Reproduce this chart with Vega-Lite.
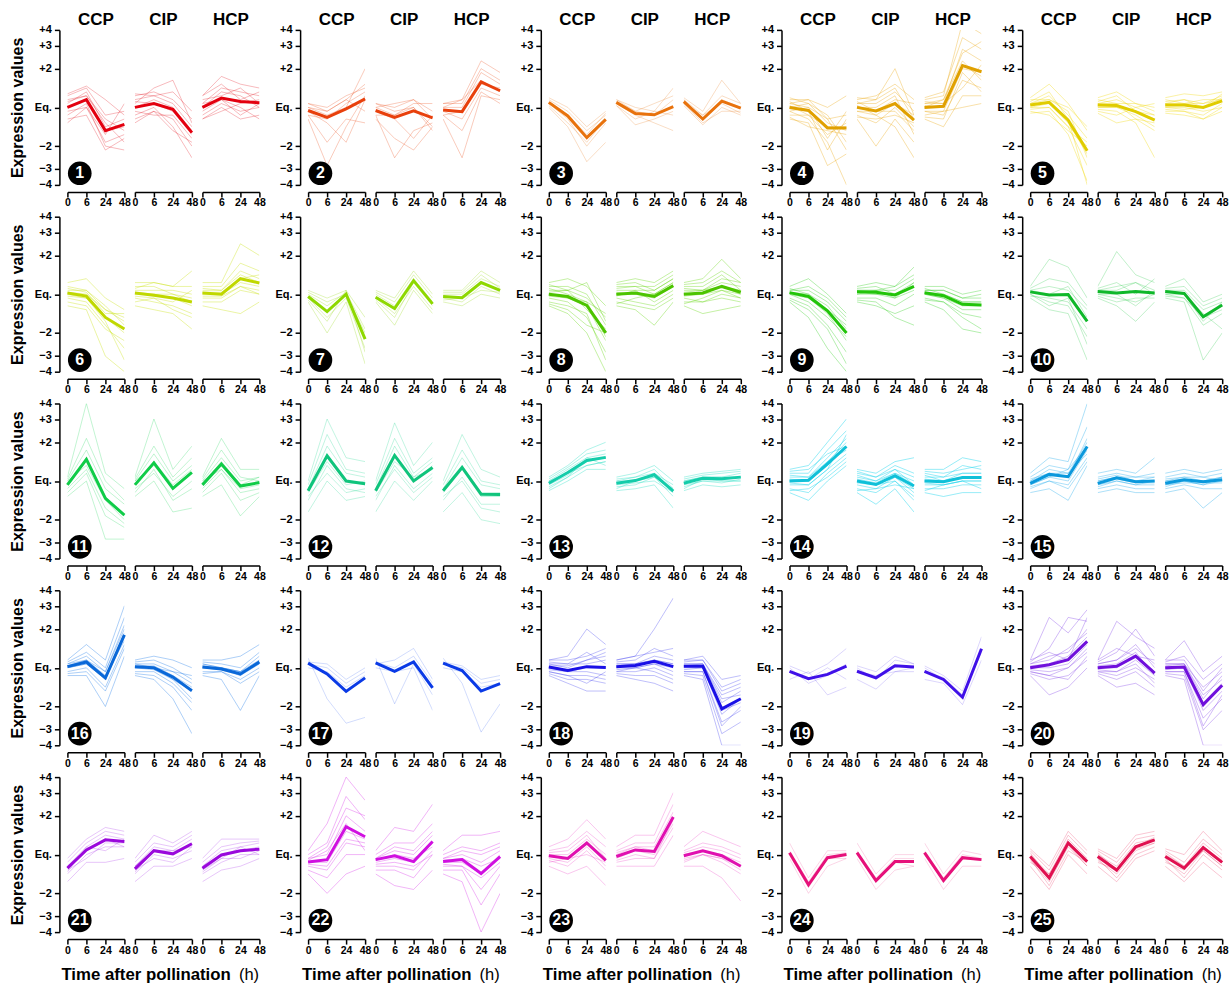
{
  "$schema": "https://vega.github.io/schema/vega-lite/v6.json",
  "background": "white",
  "padding": {"left": 8.4, "top": 10.9, "right": 1, "bottom": 1},
  "datasets": {
    "expr": [
      {"k":1,"g":0,"c":"CCP","0":0,"1":0.2,"2":-0.6,"3":-0.44},
      {"k":1,"g":0,"c":"CIP","0":0,"1":0.1,"2":-0.05,"3":-0.65},
      {"k":1,"g":0,"c":"HCP","0":0,"1":0.24,"2":0.15,"3":0.12},
      {"k":1,"g":1,"c":"CCP","0":0.3,"1":0.5,"2":-0.2,"3":-0.1},
      {"k":1,"g":2,"c":"CCP","0":-0.4,"1":0.0,"2":-0.9,"3":-0.7},
      {"k":1,"g":3,"c":"CCP","0":0.1,"1":0.4,"2":-0.5,"3":-0.3},
      {"k":1,"g":4,"c":"CCP","0":-0.2,"1":0.1,"2":-1.0,"3":-1.1},
      {"k":1,"g":5,"c":"CCP","0":0.2,"1":0.3,"2":-0.3,"3":-0.6},
      {"k":1,"g":6,"c":"CCP","0":-0.1,"1":0.0,"2":-0.7,"3":0.1},
      {"k":1,"g":7,"c":"CCP","0":0.35,"1":0.55,"2":0.2,"3":-0.2},
      {"k":1,"g":8,"c":"CCP","0":-0.3,"1":-0.2,"2":-1.1,"3":-0.8},
      {"k":1,"g":9,"c":"CCP","0":0.0,"1":0.2,"2":-0.6,"3":-0.5},
      {"k":1,"g":10,"c":"CCP","0":0.15,"1":0.3,"2":-0.4,"3":-0.9},
      {"k":1,"g":1,"c":"CIP","0":0.3,"1":0.4,"2":0.2,"3":-0.3},
      {"k":1,"g":2,"c":"CIP","0":-0.4,"1":-0.1,"2":-0.3,"3":-1.0},
      {"k":1,"g":3,"c":"CIP","0":0.1,"1":0.5,"2":0.7,"3":-0.4},
      {"k":1,"g":4,"c":"CIP","0":-0.2,"1":0.0,"2":-0.5,"3":-1.3},
      {"k":1,"g":5,"c":"CIP","0":0.2,"1":0.3,"2":0.1,"3":-0.5},
      {"k":1,"g":6,"c":"CIP","0":-0.1,"1":-0.2,"2":-0.2,"3":-0.8},
      {"k":1,"g":7,"c":"CIP","0":0.35,"1":0.3,"2":0.4,"3":-0.1},
      {"k":1,"g":8,"c":"CIP","0":-0.3,"1":-0.1,"2":-0.6,"3":-0.9},
      {"k":1,"g":9,"c":"CIP","0":0.0,"1":0.2,"2":0.0,"3":-0.6},
      {"k":1,"g":10,"c":"CIP","0":0.15,"1":0.1,"2":-0.1,"3":-0.7},
      {"k":1,"g":1,"c":"HCP","0":0.3,"1":0.8,"2":0.6,"3":0.5},
      {"k":1,"g":2,"c":"HCP","0":-0.3,"1":0.0,"2":-0.3,"3":-0.2},
      {"k":1,"g":3,"c":"HCP","0":0.1,"1":0.5,"2":0.4,"3":0.3},
      {"k":1,"g":4,"c":"HCP","0":-0.2,"1":0.1,"2":-0.1,"3":0.0},
      {"k":1,"g":5,"c":"HCP","0":0.2,"1":0.3,"2":0.5,"3":0.1},
      {"k":1,"g":6,"c":"HCP","0":-0.1,"1":0.2,"2":0.0,"3":-0.3},
      {"k":1,"g":7,"c":"HCP","0":0.3,"1":0.6,"2":0.2,"3":0.4},
      {"k":1,"g":8,"c":"HCP","0":-0.3,"1":-0.1,"2":0.1,"3":0.2},
      {"k":1,"g":9,"c":"HCP","0":0.0,"1":0.4,"2":0.3,"3":0.0},
      {"k":1,"g":10,"c":"HCP","0":0.1,"1":0.2,"2":-0.2,"3":0.1},

      {"k":2,"g":0,"c":"CCP","0":-0.08,"1":-0.26,"2":-0.04,"3":0.22},
      {"k":2,"g":0,"c":"CIP","0":-0.08,"1":-0.26,"2":-0.09,"3":-0.27},
      {"k":2,"g":0,"c":"HCP","0":-0.07,"1":-0.11,"2":0.66,"3":0.43},
      {"k":2,"g":1,"c":"CCP","0":0.1,"1":-0.1,"2":0.2,"3":0.6},
      {"k":2,"g":2,"c":"CCP","0":-0.3,"1":-1.5,"2":-0.5,"3":0.3},
      {"k":2,"g":3,"c":"CCP","0":0.0,"1":-0.2,"2":0.0,"3":1.0},
      {"k":2,"g":4,"c":"CCP","0":-0.2,"1":-0.9,"2":-0.3,"3":-0.4},
      {"k":2,"g":5,"c":"CCP","0":0.1,"1":0.0,"2":0.3,"3":0.5},
      {"k":2,"g":6,"c":"CCP","0":-0.1,"1":-0.4,"2":-0.9,"3":0.2},
      {"k":2,"g":7,"c":"CCP","0":0.0,"1":-0.1,"2":0.2,"3":-0.1},
      {"k":2,"g":8,"c":"CCP","0":-0.2,"1":-0.3,"2":0.1,"3":0.4},
      {"k":2,"g":1,"c":"CIP","0":0.1,"1":0.0,"2":0.2,"3":-0.1},
      {"k":2,"g":2,"c":"CIP","0":-0.3,"1":-0.8,"2":-1.1,"3":-0.5},
      {"k":2,"g":3,"c":"CIP","0":0.0,"1":-0.2,"2":0.1,"3":0.1},
      {"k":2,"g":4,"c":"CIP","0":-0.2,"1":-1.3,"2":-0.6,"3":-0.4},
      {"k":2,"g":5,"c":"CIP","0":0.1,"1":-0.1,"2":0.0,"3":-0.6},
      {"k":2,"g":6,"c":"CIP","0":-0.1,"1":-0.3,"2":-0.8,"3":-0.2},
      {"k":2,"g":7,"c":"CIP","0":0.0,"1":0.1,"2":0.2,"3":-0.3},
      {"k":2,"g":8,"c":"CIP","0":-0.2,"1":-0.2,"2":0.0,"3":-0.5},
      {"k":2,"g":1,"c":"HCP","0":0.1,"1":0.2,"2":1.2,"3":0.9},
      {"k":2,"g":2,"c":"HCP","0":-0.3,"1":-1.3,"2":0.3,"3":0.2},
      {"k":2,"g":3,"c":"HCP","0":0.0,"1":0.0,"2":0.9,"3":0.6},
      {"k":2,"g":4,"c":"HCP","0":-0.2,"1":-0.6,"2":0.4,"3":0.1},
      {"k":2,"g":5,"c":"HCP","0":0.1,"1":0.1,"2":1.0,"3":0.7},
      {"k":2,"g":6,"c":"HCP","0":-0.1,"1":-0.3,"2":0.5,"3":0.3},
      {"k":2,"g":7,"c":"HCP","0":0.0,"1":0.2,"2":0.7,"3":0.4},
      {"k":2,"g":8,"c":"HCP","0":-0.2,"1":-0.1,"2":0.6,"3":0.5},

      {"k":3,"g":0,"c":"CCP","0":0.13,"1":-0.22,"2":-0.78,"3":-0.31},
      {"k":3,"g":0,"c":"CIP","0":0.13,"1":-0.16,"2":-0.19,"3":0.02},
      {"k":3,"g":0,"c":"HCP","0":0.15,"1":-0.3,"2":0.16,"3":-0.02},
      {"k":3,"g":1,"c":"CCP","0":0.25,"1":0.0,"2":-0.5,"3":-0.1},
      {"k":3,"g":2,"c":"CCP","0":0.0,"1":-0.5,"2":-1.4,"3":-0.9},
      {"k":3,"g":3,"c":"CCP","0":0.2,"1":-0.1,"2":-0.6,"3":-0.2},
      {"k":3,"g":4,"c":"CCP","0":0.1,"1":-0.3,"2":-1.0,"3":-0.4},
      {"k":3,"g":5,"c":"CCP","0":0.15,"1":-0.2,"2":-0.7,"3":-0.15},
      {"k":3,"g":6,"c":"CCP","0":0.05,"1":-0.4,"2":-0.9,"3":-0.3},
      {"k":3,"g":1,"c":"CIP","0":0.2,"1":0.0,"2":-0.1,"3":0.5},
      {"k":3,"g":2,"c":"CIP","0":0.05,"1":-0.45,"2":-0.3,"3":-0.1},
      {"k":3,"g":3,"c":"CIP","0":0.15,"1":-0.1,"2":0.1,"3":0.3},
      {"k":3,"g":4,"c":"CIP","0":0.1,"1":-0.2,"2":-0.4,"3":-0.6},
      {"k":3,"g":5,"c":"CIP","0":0.2,"1":-0.1,"2":-0.2,"3":0.2},
      {"k":3,"g":6,"c":"CIP","0":0.05,"1":-0.3,"2":-0.1,"3":-0.2},
      {"k":3,"g":1,"c":"HCP","0":0.25,"1":-0.1,"2":0.7,"3":0.1},
      {"k":3,"g":2,"c":"HCP","0":0.05,"1":-0.45,"2":0.0,"3":-0.2},
      {"k":3,"g":3,"c":"HCP","0":0.2,"1":-0.2,"2":0.3,"3":0.1},
      {"k":3,"g":4,"c":"HCP","0":0.1,"1":-0.4,"2":-0.1,"3":-0.1},
      {"k":3,"g":5,"c":"HCP","0":0.2,"1":-0.3,"2":0.2,"3":0.0},
      {"k":3,"g":6,"c":"HCP","0":0.1,"1":-0.2,"2":0.1,"3":-0.15},

      {"k":4,"g":0,"c":"CCP","0":0,"1":-0.08,"2":-0.53,"3":-0.53},
      {"k":4,"g":0,"c":"CIP","0":0,"1":-0.09,"2":0.1,"3":-0.33},
      {"k":4,"g":0,"c":"HCP","0":0,"1":0.03,"2":1.08,"3":0.92},
      {"k":4,"g":1,"c":"CCP","0":0.2,"1":0.2,"2":0.0,"3":0.3},
      {"k":4,"g":2,"c":"CCP","0":-0.3,"1":-0.4,"2":-1.5,"3":-1.2},
      {"k":4,"g":3,"c":"CCP","0":0.1,"1":0.0,"2":-0.3,"3":-0.2},
      {"k":4,"g":4,"c":"CCP","0":-0.1,"1":-0.3,"2":-0.9,"3":-2.0},
      {"k":4,"g":5,"c":"CCP","0":0.25,"1":0.1,"2":-0.4,"3":-0.6},
      {"k":4,"g":6,"c":"CCP","0":-0.2,"1":-0.2,"2":-0.7,"3":-0.4},
      {"k":4,"g":7,"c":"CCP","0":0.0,"1":0.1,"2":-0.2,"3":-0.9},
      {"k":4,"g":8,"c":"CCP","0":0.15,"1":-0.1,"2":-1.1,"3":-0.3},
      {"k":4,"g":9,"c":"CCP","0":-0.25,"1":-0.5,"2":-0.6,"3":-0.7},
      {"k":4,"g":10,"c":"CCP","0":0.1,"1":0.2,"2":-0.3,"3":-1.1},
      {"k":4,"g":11,"c":"CCP","0":-0.1,"1":0.0,"2":-0.8,"3":-0.1},
      {"k":4,"g":12,"c":"CCP","0":0.05,"1":-0.2,"2":-0.5,"3":-0.5},
      {"k":4,"g":1,"c":"CIP","0":0.2,"1":0.3,"2":0.6,"3":0.2},
      {"k":4,"g":2,"c":"CIP","0":-0.3,"1":-1.0,"2":-0.3,"3":-0.9},
      {"k":4,"g":3,"c":"CIP","0":0.1,"1":0.1,"2":0.4,"3":-0.1},
      {"k":4,"g":4,"c":"CIP","0":-0.1,"1":-0.2,"2":-0.5,"3":-1.3},
      {"k":4,"g":5,"c":"CIP","0":0.25,"1":0.2,"2":1.0,"3":-0.2},
      {"k":4,"g":6,"c":"CIP","0":-0.2,"1":-0.4,"2":0.0,"3":-0.5},
      {"k":4,"g":7,"c":"CIP","0":0.0,"1":0.0,"2":0.3,"3":-0.7},
      {"k":4,"g":8,"c":"CIP","0":0.15,"1":-0.1,"2":0.2,"3":0.1},
      {"k":4,"g":9,"c":"CIP","0":-0.25,"1":-0.3,"2":-0.2,"3":-0.4},
      {"k":4,"g":10,"c":"CIP","0":0.1,"1":0.2,"2":0.5,"3":-0.3},
      {"k":4,"g":11,"c":"CIP","0":-0.1,"1":-0.1,"2":-0.1,"3":-0.6},
      {"k":4,"g":12,"c":"CIP","0":0.05,"1":-0.2,"2":0.1,"3":-0.2},
      {"k":4,"g":1,"c":"HCP","0":0.2,"1":0.3,"2":2.2,"3":1.9},
      {"k":4,"g":2,"c":"HCP","0":-0.3,"1":-0.5,"2":0.3,"3":0.3},
      {"k":4,"g":3,"c":"HCP","0":0.1,"1":0.1,"2":1.5,"3":1.2},
      {"k":4,"g":4,"c":"HCP","0":-0.1,"1":-0.2,"2":0.7,"3":0.5},
      {"k":4,"g":5,"c":"HCP","0":0.25,"1":0.4,"2":1.8,"3":1.5},
      {"k":4,"g":6,"c":"HCP","0":-0.2,"1":-0.1,"2":1.0,"3":0.9},
      {"k":4,"g":7,"c":"HCP","0":0.0,"1":0.2,"2":1.2,"3":0.7},
      {"k":4,"g":8,"c":"HCP","0":0.15,"1":0.1,"2":0.5,"3":1.1},
      {"k":4,"g":9,"c":"HCP","0":-0.25,"1":-0.3,"2":0.9,"3":0.4},
      {"k":4,"g":10,"c":"HCP","0":0.1,"1":0.2,"2":1.4,"3":1.7},
      {"k":4,"g":11,"c":"HCP","0":-0.1,"1":-0.1,"2":0.0,"3":0.1},
      {"k":4,"g":12,"c":"HCP","0":0.05,"1":0.0,"2":1.1,"3":0.8},

      {"k":5,"g":0,"c":"CCP","0":0.06,"1":0.13,"2":-0.33,"3":-1.12},
      {"k":5,"g":0,"c":"CIP","0":0.06,"1":0.05,"2":-0.11,"3":-0.33},
      {"k":5,"g":0,"c":"HCP","0":0.06,"1":0.06,"2":0,"3":0.17},
      {"k":5,"g":1,"c":"CCP","0":0.25,"1":0.6,"2":0.1,"3":-0.6},
      {"k":5,"g":2,"c":"CCP","0":-0.15,"1":-0.1,"2":-0.7,"3":-1.9},
      {"k":5,"g":3,"c":"CCP","0":0.1,"1":0.3,"2":-0.2,"3":-0.8},
      {"k":5,"g":4,"c":"CCP","0":-0.05,"1":0.0,"2":-0.5,"3":-1.5},
      {"k":5,"g":5,"c":"CCP","0":0.2,"1":0.2,"2":0.0,"3":-0.5},
      {"k":5,"g":6,"c":"CCP","0":0.0,"1":0.1,"2":-0.4,"3":-1.2},
      {"k":5,"g":7,"c":"CCP","0":0.15,"1":0.4,"2":-0.3,"3":-2.0},
      {"k":5,"g":8,"c":"CCP","0":-0.1,"1":-0.2,"2":-0.6,"3":-1.0},
      {"k":5,"g":9,"c":"CCP","0":0.1,"1":0.2,"2":-0.1,"3":-1.3},
      {"k":5,"g":10,"c":"CCP","0":0.0,"1":0.0,"2":-0.5,"3":-0.9},
      {"k":5,"g":1,"c":"CIP","0":0.25,"1":0.4,"2":0.1,"3":0.0},
      {"k":5,"g":2,"c":"CIP","0":-0.15,"1":-0.4,"2":-0.3,"3":-0.6},
      {"k":5,"g":3,"c":"CIP","0":0.1,"1":0.2,"2":0.0,"3":-0.2},
      {"k":5,"g":4,"c":"CIP","0":-0.05,"1":-0.1,"2":-0.4,"3":-1.3},
      {"k":5,"g":5,"c":"CIP","0":0.2,"1":0.1,"2":0.1,"3":-0.1},
      {"k":5,"g":6,"c":"CIP","0":0.0,"1":0.0,"2":-0.2,"3":-0.5},
      {"k":5,"g":7,"c":"CIP","0":0.15,"1":0.3,"2":-0.1,"3":-0.3},
      {"k":5,"g":8,"c":"CIP","0":-0.1,"1":-0.2,"2":0.0,"3":0.1},
      {"k":5,"g":9,"c":"CIP","0":0.1,"1":0.1,"2":-0.3,"3":-0.4},
      {"k":5,"g":10,"c":"CIP","0":0.0,"1":0.0,"2":-0.1,"3":-0.2},
      {"k":5,"g":1,"c":"HCP","0":0.25,"1":0.35,"2":0.3,"3":0.4},
      {"k":5,"g":2,"c":"HCP","0":-0.15,"1":-0.2,"2":-0.3,"3":0.0},
      {"k":5,"g":3,"c":"HCP","0":0.1,"1":0.2,"2":0.1,"3":0.3},
      {"k":5,"g":4,"c":"HCP","0":-0.05,"1":-0.1,"2":-0.2,"3":0.1},
      {"k":5,"g":5,"c":"HCP","0":0.2,"1":0.1,"2":0.2,"3":0.2},
      {"k":5,"g":6,"c":"HCP","0":0.0,"1":0.0,"2":-0.1,"3":0.0},
      {"k":5,"g":7,"c":"HCP","0":0.15,"1":0.2,"2":0.0,"3":0.35},
      {"k":5,"g":8,"c":"HCP","0":-0.1,"1":-0.1,"2":-0.3,"3":-0.1},
      {"k":5,"g":9,"c":"HCP","0":0.1,"1":0.1,"2":0.1,"3":0.2},
      {"k":5,"g":10,"c":"HCP","0":0.0,"1":-0.05,"2":0.0,"3":0.25},

      {"k":6,"g":0,"c":"CCP","0":0.03,"1":-0.05,"2":-0.6,"3":-0.9},
      {"k":6,"g":0,"c":"CIP","0":0.03,"1":-0.03,"2":-0.1,"3":-0.2},
      {"k":6,"g":0,"c":"HCP","0":0.03,"1":0,"2":0.4,"3":0.29},
      {"k":6,"g":1,"c":"CCP","0":0.3,"1":0.4,"2":-0.1,"3":-0.4},
      {"k":6,"g":2,"c":"CCP","0":-0.3,"1":-0.4,"2":-1.6,"3":-2.0},
      {"k":6,"g":3,"c":"CCP","0":0.1,"1":0.1,"2":-0.4,"3":-0.6},
      {"k":6,"g":4,"c":"CCP","0":-0.1,"1":-0.2,"2":-0.8,"3":-1.4},
      {"k":6,"g":5,"c":"CCP","0":0.2,"1":0.1,"2":-0.3,"3":-0.8},
      {"k":6,"g":6,"c":"CCP","0":0.0,"1":-0.1,"2":-0.6,"3":-1.0},
      {"k":6,"g":7,"c":"CCP","0":0.15,"1":0.05,"2":-0.5,"3":-0.5},
      {"k":6,"g":8,"c":"CCP","0":-0.2,"1":-0.3,"2":-0.9,"3":-1.2},
      {"k":6,"g":9,"c":"CCP","0":0.05,"1":0.0,"2":-0.4,"3":-0.7},
      {"k":6,"g":10,"c":"CCP","0":-0.05,"1":-0.1,"2":-0.7,"3":-1.7},
      {"k":6,"g":1,"c":"CIP","0":0.3,"1":0.3,"2":0.2,"3":0.6},
      {"k":6,"g":2,"c":"CIP","0":-0.3,"1":-0.4,"2":-0.5,"3":-0.9},
      {"k":6,"g":3,"c":"CIP","0":0.1,"1":0.1,"2":0.1,"3":0.0},
      {"k":6,"g":4,"c":"CIP","0":-0.1,"1":-0.2,"2":-0.3,"3":-0.5},
      {"k":6,"g":5,"c":"CIP","0":0.2,"1":0.2,"2":0.0,"3":-0.1},
      {"k":6,"g":6,"c":"CIP","0":0.0,"1":0.0,"2":-0.1,"3":-0.3},
      {"k":6,"g":7,"c":"CIP","0":0.15,"1":0.3,"2":0.2,"3":0.2},
      {"k":6,"g":8,"c":"CIP","0":-0.2,"1":-0.1,"2":-0.4,"3":-0.6},
      {"k":6,"g":9,"c":"CIP","0":0.05,"1":0.0,"2":0.0,"3":-0.2},
      {"k":6,"g":10,"c":"CIP","0":-0.05,"1":-0.1,"2":-0.2,"3":0.1},
      {"k":6,"g":1,"c":"HCP","0":0.3,"1":0.3,"2":1.3,"3":1.0},
      {"k":6,"g":2,"c":"HCP","0":-0.3,"1":-0.4,"2":-0.5,"3":-0.2},
      {"k":6,"g":3,"c":"HCP","0":0.1,"1":0.1,"2":0.6,"3":0.4},
      {"k":6,"g":4,"c":"HCP","0":-0.1,"1":-0.1,"2":0.2,"3":0.1},
      {"k":6,"g":5,"c":"HCP","0":0.2,"1":0.2,"2":0.8,"3":0.6},
      {"k":6,"g":6,"c":"HCP","0":0.0,"1":0.0,"2":0.3,"3":0.2},
      {"k":6,"g":7,"c":"HCP","0":0.15,"1":0.1,"2":0.5,"3":0.3},
      {"k":6,"g":8,"c":"HCP","0":-0.2,"1":-0.2,"2":0.1,"3":0.0},
      {"k":6,"g":9,"c":"HCP","0":0.05,"1":0.05,"2":0.4,"3":0.5},
      {"k":6,"g":10,"c":"HCP","0":-0.05,"1":-0.05,"2":0.2,"3":0.0},

      {"k":7,"g":0,"c":"CCP","0":-0.06,"1":-0.45,"2":0,"3":-1.16},
      {"k":7,"g":0,"c":"CIP","0":-0.08,"1":-0.37,"2":0.35,"3":-0.25},
      {"k":7,"g":0,"c":"HCP","0":-0.06,"1":-0.09,"2":0.3,"3":0.1},
      {"k":7,"g":1,"c":"CCP","0":0.1,"1":-0.1,"2":0.1,"3":-0.6},
      {"k":7,"g":2,"c":"CCP","0":-0.2,"1":-1.0,"2":-0.2,"3":-1.8},
      {"k":7,"g":3,"c":"CCP","0":0.0,"1":-0.3,"2":0.05,"3":-0.9},
      {"k":7,"g":4,"c":"CCP","0":-0.1,"1":-0.6,"2":-0.1,"3":-1.4},
      {"k":7,"g":5,"c":"CCP","0":0.05,"1":-0.2,"2":0.0,"3":-1.0},
      {"k":7,"g":6,"c":"CCP","0":-0.15,"1":-0.7,"2":0.1,"3":-1.5},
      {"k":7,"g":1,"c":"CIP","0":0.1,"1":-0.1,"2":0.6,"3":0.0},
      {"k":7,"g":2,"c":"CIP","0":-0.2,"1":-0.8,"2":0.1,"3":-0.5},
      {"k":7,"g":3,"c":"CIP","0":0.0,"1":-0.3,"2":0.4,"3":-0.2},
      {"k":7,"g":4,"c":"CIP","0":-0.1,"1":-0.5,"2":0.2,"3":-0.4},
      {"k":7,"g":5,"c":"CIP","0":0.05,"1":-0.2,"2":0.5,"3":-0.1},
      {"k":7,"g":6,"c":"CIP","0":-0.15,"1":-0.6,"2":0.3,"3":-0.3},
      {"k":7,"g":1,"c":"HCP","0":0.1,"1":0.1,"2":0.6,"3":0.3},
      {"k":7,"g":2,"c":"HCP","0":-0.2,"1":-0.3,"2":0.0,"3":-0.1},
      {"k":7,"g":3,"c":"HCP","0":0.0,"1":0.0,"2":0.4,"3":0.2},
      {"k":7,"g":4,"c":"HCP","0":-0.1,"1":-0.2,"2":0.2,"3":0.0},
      {"k":7,"g":5,"c":"HCP","0":0.05,"1":0.05,"2":0.5,"3":0.15},
      {"k":7,"g":6,"c":"HCP","0":-0.15,"1":-0.1,"2":0.1,"3":0.05},

      {"k":8,"g":0,"c":"CCP","0":0,"1":-0.06,"2":-0.29,"3":-1.0},
      {"k":8,"g":0,"c":"CIP","0":0,"1":0.03,"2":-0.06,"3":0.22},
      {"k":8,"g":0,"c":"HCP","0":0,"1":0.03,"2":0.2,"3":0.05},
      {"k":8,"g":1,"c":"CCP","0":0.3,"1":0.4,"2":0.2,"3":-0.3},
      {"k":8,"g":2,"c":"CCP","0":-0.3,"1":-0.5,"2":-1.0,"3":-2.0},
      {"k":8,"g":3,"c":"CCP","0":0.1,"1":0.1,"2":-0.1,"3":-0.6},
      {"k":8,"g":4,"c":"CCP","0":-0.1,"1":-0.2,"2":-0.6,"3":-1.5},
      {"k":8,"g":5,"c":"CCP","0":0.2,"1":0.2,"2":0.0,"3":-0.8},
      {"k":8,"g":6,"c":"CCP","0":0.0,"1":-0.1,"2":-0.3,"3":-1.2},
      {"k":8,"g":7,"c":"CCP","0":0.15,"1":0.0,"2":-0.2,"3":-0.5},
      {"k":8,"g":8,"c":"CCP","0":-0.2,"1":-0.3,"2":-0.5,"3":-1.7},
      {"k":8,"g":9,"c":"CCP","0":0.05,"1":0.1,"2":-0.4,"3":-0.9},
      {"k":8,"g":10,"c":"CCP","0":-0.05,"1":-0.1,"2":-0.2,"3":-1.1},
      {"k":8,"g":11,"c":"CCP","0":0.25,"1":0.1,"2":0.3,"3":-0.7},
      {"k":8,"g":12,"c":"CCP","0":-0.25,"1":-0.4,"2":-0.8,"3":-1.0},
      {"k":8,"g":1,"c":"CIP","0":0.3,"1":0.4,"2":0.3,"3":0.6},
      {"k":8,"g":2,"c":"CIP","0":-0.3,"1":-0.4,"2":-0.8,"3":-0.2},
      {"k":8,"g":3,"c":"CIP","0":0.1,"1":0.1,"2":0.1,"3":0.4},
      {"k":8,"g":4,"c":"CIP","0":-0.1,"1":-0.2,"2":-0.3,"3":0.0},
      {"k":8,"g":5,"c":"CIP","0":0.2,"1":0.2,"2":0.0,"3":0.3},
      {"k":8,"g":6,"c":"CIP","0":0.0,"1":0.0,"2":-0.1,"3":0.2},
      {"k":8,"g":7,"c":"CIP","0":0.15,"1":0.2,"2":0.2,"3":0.5},
      {"k":8,"g":8,"c":"CIP","0":-0.2,"1":-0.3,"2":-0.4,"3":-0.1},
      {"k":8,"g":9,"c":"CIP","0":0.05,"1":0.0,"2":0.0,"3":0.3},
      {"k":8,"g":10,"c":"CIP","0":-0.05,"1":0.1,"2":-0.2,"3":0.1},
      {"k":8,"g":11,"c":"CIP","0":0.25,"1":0.3,"2":0.1,"3":0.4},
      {"k":8,"g":12,"c":"CIP","0":-0.25,"1":-0.1,"2":0.0,"3":0.2},
      {"k":8,"g":1,"c":"HCP","0":0.3,"1":0.4,"2":0.9,"3":0.4},
      {"k":8,"g":2,"c":"HCP","0":-0.3,"1":-0.5,"2":-0.4,"3":-0.3},
      {"k":8,"g":3,"c":"HCP","0":0.1,"1":0.1,"2":0.3,"3":0.2},
      {"k":8,"g":4,"c":"HCP","0":-0.1,"1":-0.2,"2":0.0,"3":-0.1},
      {"k":8,"g":5,"c":"HCP","0":0.2,"1":0.2,"2":0.5,"3":0.1},
      {"k":8,"g":6,"c":"HCP","0":0.0,"1":0.0,"2":0.2,"3":0.0},
      {"k":8,"g":7,"c":"HCP","0":0.15,"1":0.1,"2":0.4,"3":0.3},
      {"k":8,"g":8,"c":"HCP","0":-0.2,"1":-0.2,"2":-0.1,"3":-0.2},
      {"k":8,"g":9,"c":"HCP","0":0.05,"1":0.1,"2":0.2,"3":0.1},
      {"k":8,"g":10,"c":"HCP","0":-0.05,"1":0.0,"2":0.1,"3":-0.1},
      {"k":8,"g":11,"c":"HCP","0":0.25,"1":0.3,"2":0.6,"3":0.3},
      {"k":8,"g":12,"c":"HCP","0":-0.25,"1":-0.1,"2":0.1,"3":0.0},

      {"k":9,"g":0,"c":"CCP","0":0.04,"1":-0.06,"2":-0.43,"3":-1.0},
      {"k":9,"g":0,"c":"CIP","0":0.06,"1":0.05,"2":-0.02,"3":0.2},
      {"k":9,"g":0,"c":"HCP","0":0.04,"1":-0.04,"2":-0.26,"3":-0.28},
      {"k":9,"g":1,"c":"CCP","0":0.2,"1":0.4,"2":0.0,"3":-0.5},
      {"k":9,"g":2,"c":"CCP","0":-0.2,"1":-0.6,"2":-1.4,"3":-2.0},
      {"k":9,"g":3,"c":"CCP","0":0.1,"1":0.1,"2":-0.2,"3":-0.7},
      {"k":9,"g":4,"c":"CCP","0":-0.1,"1":-0.3,"2":-0.8,"3":-1.5},
      {"k":9,"g":5,"c":"CCP","0":0.15,"1":0.0,"2":-0.3,"3":-0.9},
      {"k":9,"g":6,"c":"CCP","0":0.0,"1":-0.1,"2":-0.5,"3":-1.2},
      {"k":9,"g":7,"c":"CCP","0":0.1,"1":0.2,"2":-0.1,"3":-0.6},
      {"k":9,"g":8,"c":"CCP","0":-0.15,"1":-0.4,"2":-0.9,"3":-1.8},
      {"k":9,"g":9,"c":"CCP","0":0.05,"1":0.0,"2":-0.4,"3":-0.8},
      {"k":9,"g":10,"c":"CCP","0":0.0,"1":-0.2,"2":-0.6,"3":-1.1},
      {"k":9,"g":1,"c":"CIP","0":0.2,"1":0.3,"2":0.2,"3":0.7},
      {"k":9,"g":2,"c":"CIP","0":-0.2,"1":-0.3,"2":-0.5,"3":-0.3},
      {"k":9,"g":3,"c":"CIP","0":0.1,"1":0.1,"2":0.1,"3":0.4},
      {"k":9,"g":4,"c":"CIP","0":-0.1,"1":-0.1,"2":-0.3,"3":0.0},
      {"k":9,"g":5,"c":"CIP","0":0.15,"1":0.2,"2":0.0,"3":0.3},
      {"k":9,"g":6,"c":"CIP","0":0.0,"1":0.0,"2":-0.1,"3":0.1},
      {"k":9,"g":7,"c":"CIP","0":0.1,"1":0.1,"2":0.2,"3":0.5},
      {"k":9,"g":8,"c":"CIP","0":-0.15,"1":-0.2,"2":-0.6,"3":-0.8},
      {"k":9,"g":9,"c":"CIP","0":0.05,"1":0.0,"2":0.0,"3":0.2},
      {"k":9,"g":10,"c":"CIP","0":0.0,"1":0.1,"2":-0.1,"3":0.3},
      {"k":9,"g":1,"c":"HCP","0":0.2,"1":0.2,"2":0.0,"3":0.1},
      {"k":9,"g":2,"c":"HCP","0":-0.2,"1":-0.4,"2":-0.9,"3":-1.0},
      {"k":9,"g":3,"c":"HCP","0":0.1,"1":0.1,"2":-0.1,"3":-0.1},
      {"k":9,"g":4,"c":"HCP","0":-0.1,"1":-0.2,"2":-0.5,"3":-0.6},
      {"k":9,"g":5,"c":"HCP","0":0.15,"1":0.0,"2":-0.2,"3":-0.2},
      {"k":9,"g":6,"c":"HCP","0":0.0,"1":-0.1,"2":-0.3,"3":-0.3},
      {"k":9,"g":7,"c":"HCP","0":0.1,"1":0.1,"2":-0.1,"3":0.0},
      {"k":9,"g":8,"c":"HCP","0":-0.15,"1":-0.2,"2":-0.6,"3":-0.9},
      {"k":9,"g":9,"c":"HCP","0":0.05,"1":0.0,"2":-0.2,"3":-0.2},
      {"k":9,"g":10,"c":"HCP","0":0.0,"1":-0.1,"2":-0.4,"3":-0.4},

      {"k":10,"g":0,"c":"CCP","0":0.06,"1":-0.02,"2":-0.01,"3":-0.7},
      {"k":10,"g":0,"c":"CIP","0":0.07,"1":0.03,"2":0.07,"3":0.03},
      {"k":10,"g":0,"c":"HCP","0":0.07,"1":0.02,"2":-0.58,"3":-0.28},
      {"k":10,"g":1,"c":"CCP","0":0.2,"1":0.9,"2":0.7,"3":-0.1},
      {"k":10,"g":2,"c":"CCP","0":-0.1,"1":-0.4,"2":-0.5,"3":-1.7},
      {"k":10,"g":3,"c":"CCP","0":0.1,"1":0.2,"2":0.1,"3":-0.4},
      {"k":10,"g":4,"c":"CCP","0":0.0,"1":-0.2,"2":-0.3,"3":-1.1},
      {"k":10,"g":5,"c":"CCP","0":0.15,"1":0.4,"2":0.3,"3":-0.3},
      {"k":10,"g":6,"c":"CCP","0":-0.05,"1":-0.1,"2":-0.2,"3":-0.9},
      {"k":10,"g":7,"c":"CCP","0":0.1,"1":0.0,"2":0.2,"3":-0.6},
      {"k":10,"g":8,"c":"CCP","0":0.0,"1":-0.3,"2":-0.1,"3":-1.3},
      {"k":10,"g":1,"c":"CIP","0":0.2,"1":1.1,"2":0.5,"3":0.3},
      {"k":10,"g":2,"c":"CIP","0":-0.1,"1":-0.3,"2":-0.7,"3":-0.2},
      {"k":10,"g":3,"c":"CIP","0":0.1,"1":0.2,"2":0.3,"3":0.1},
      {"k":10,"g":4,"c":"CIP","0":0.0,"1":-0.1,"2":-0.2,"3":0.0},
      {"k":10,"g":5,"c":"CIP","0":0.15,"1":0.3,"2":0.0,"3":0.4},
      {"k":10,"g":6,"c":"CIP","0":-0.05,"1":-0.2,"2":-0.1,"3":-0.1},
      {"k":10,"g":7,"c":"CIP","0":0.1,"1":0.1,"2":0.3,"3":0.0},
      {"k":10,"g":8,"c":"CIP","0":0.0,"1":0.0,"2":-0.3,"3":0.1},
      {"k":10,"g":1,"c":"HCP","0":0.2,"1":0.4,"2":-0.2,"3":0.0},
      {"k":10,"g":2,"c":"HCP","0":-0.1,"1":-0.2,"2":-1.7,"3":-1.0},
      {"k":10,"g":3,"c":"HCP","0":0.1,"1":0.1,"2":-0.4,"3":-0.2},
      {"k":10,"g":4,"c":"HCP","0":0.0,"1":-0.1,"2":-0.8,"3":-0.5},
      {"k":10,"g":5,"c":"HCP","0":0.15,"1":0.2,"2":-0.3,"3":-0.1},
      {"k":10,"g":6,"c":"HCP","0":-0.05,"1":-0.1,"2":-0.6,"3":-0.4},
      {"k":10,"g":7,"c":"HCP","0":0.1,"1":0.0,"2":-0.5,"3":-0.9},
      {"k":10,"g":8,"c":"HCP","0":0.0,"1":0.0,"2":-0.7,"3":-0.2},

      {"k":11,"g":0,"c":"CCP","0":-0.1,"1":0.56,"2":-0.45,"3":-0.88},
      {"k":11,"g":0,"c":"CIP","0":-0.1,"1":0.47,"2":-0.19,"3":0.22},
      {"k":11,"g":0,"c":"HCP","0":-0.1,"1":0.44,"2":-0.13,"3":-0.04},
      {"k":11,"g":1,"c":"CCP","0":0.1,"1":2.0,"2":0.2,"3":-0.2},
      {"k":11,"g":2,"c":"CCP","0":-0.4,"1":0.0,"2":-1.5,"3":-1.5},
      {"k":11,"g":3,"c":"CCP","0":0.0,"1":0.8,"2":-0.2,"3":-0.6},
      {"k":11,"g":4,"c":"CCP","0":-0.2,"1":0.3,"2":-0.7,"3":-1.1},
      {"k":11,"g":5,"c":"CCP","0":0.05,"1":1.1,"2":0.0,"3":-0.5},
      {"k":11,"g":6,"c":"CCP","0":-0.3,"1":0.2,"2":-0.9,"3":-1.2},
      {"k":11,"g":7,"c":"CCP","0":-0.1,"1":0.6,"2":-0.4,"3":-0.9},
      {"k":11,"g":8,"c":"CCP","0":0.0,"1":0.4,"2":-0.5,"3":-1.0},
      {"k":11,"g":1,"c":"CIP","0":0.1,"1":1.6,"2":0.3,"3":0.9},
      {"k":11,"g":2,"c":"CIP","0":-0.4,"1":0.0,"2":-0.8,"3":-0.7},
      {"k":11,"g":3,"c":"CIP","0":0.0,"1":0.7,"2":0.0,"3":0.4},
      {"k":11,"g":4,"c":"CIP","0":-0.2,"1":0.2,"2":-0.4,"3":0.0},
      {"k":11,"g":5,"c":"CIP","0":0.05,"1":0.9,"2":0.1,"3":0.6},
      {"k":11,"g":6,"c":"CIP","0":-0.3,"1":0.3,"2":-0.5,"3":-0.2},
      {"k":11,"g":7,"c":"CIP","0":-0.1,"1":0.5,"2":-0.1,"3":0.3},
      {"k":11,"g":8,"c":"CIP","0":0.0,"1":0.4,"2":-0.2,"3":0.2},
      {"k":11,"g":1,"c":"HCP","0":0.1,"1":1.1,"2":0.3,"3":0.3},
      {"k":11,"g":2,"c":"HCP","0":-0.4,"1":-0.1,"2":-0.9,"3":-0.4},
      {"k":11,"g":3,"c":"HCP","0":0.0,"1":0.6,"2":0.0,"3":0.1},
      {"k":11,"g":4,"c":"HCP","0":-0.2,"1":0.3,"2":-0.3,"3":-0.2},
      {"k":11,"g":5,"c":"HCP","0":0.05,"1":0.8,"2":0.1,"3":0.0},
      {"k":11,"g":6,"c":"HCP","0":-0.3,"1":0.2,"2":-0.5,"3":-0.3},
      {"k":11,"g":7,"c":"HCP","0":-0.1,"1":0.5,"2":-0.1,"3":0.1},
      {"k":11,"g":8,"c":"HCP","0":0.0,"1":0.3,"2":-0.2,"3":-0.1},

      {"k":12,"g":0,"c":"CCP","0":-0.25,"1":0.65,"2":0,"3":-0.07},
      {"k":12,"g":0,"c":"CIP","0":-0.25,"1":0.66,"2":0,"3":0.35},
      {"k":12,"g":0,"c":"HCP","0":-0.25,"1":0.35,"2":-0.34,"3":-0.35},
      {"k":12,"g":1,"c":"CCP","0":0.0,"1":1.6,"2":0.6,"3":0.5},
      {"k":12,"g":2,"c":"CCP","0":-0.8,"1":0.0,"2":-0.5,"3":-0.4},
      {"k":12,"g":3,"c":"CCP","0":-0.2,"1":0.9,"2":0.2,"3":0.1},
      {"k":12,"g":4,"c":"CCP","0":-0.5,"1":0.4,"2":-0.2,"3":-0.3},
      {"k":12,"g":5,"c":"CCP","0":-0.1,"1":1.2,"2":0.3,"3":0.2},
      {"k":12,"g":6,"c":"CCP","0":-0.4,"1":0.2,"2":-0.3,"3":-0.2},
      {"k":12,"g":7,"c":"CCP","0":-0.2,"1":0.6,"2":0.0,"3":-0.1},
      {"k":12,"g":8,"c":"CCP","0":-0.3,"1":0.5,"2":-0.1,"3":0.0},
      {"k":12,"g":1,"c":"CIP","0":0.0,"1":1.5,"2":0.4,"3":1.0},
      {"k":12,"g":2,"c":"CIP","0":-0.8,"1":0.0,"2":-0.5,"3":0.0},
      {"k":12,"g":3,"c":"CIP","0":-0.2,"1":0.9,"2":0.1,"3":0.5},
      {"k":12,"g":4,"c":"CIP","0":-0.5,"1":0.4,"2":-0.2,"3":0.2},
      {"k":12,"g":5,"c":"CIP","0":-0.1,"1":1.1,"2":0.2,"3":0.6},
      {"k":12,"g":6,"c":"CIP","0":-0.4,"1":0.3,"2":-0.3,"3":0.1},
      {"k":12,"g":7,"c":"CIP","0":-0.2,"1":0.7,"2":0.0,"3":0.4},
      {"k":12,"g":8,"c":"CIP","0":-0.3,"1":0.5,"2":0.1,"3":0.3},
      {"k":12,"g":1,"c":"HCP","0":0.0,"1":1.2,"2":0.3,"3":0.1},
      {"k":12,"g":2,"c":"HCP","0":-0.8,"1":-0.3,"2":-1.0,"3":-1.1},
      {"k":12,"g":3,"c":"HCP","0":-0.2,"1":0.6,"2":-0.1,"3":-0.2},
      {"k":12,"g":4,"c":"HCP","0":-0.5,"1":0.1,"2":-0.6,"3":-0.6},
      {"k":12,"g":5,"c":"HCP","0":-0.1,"1":0.8,"2":0.0,"3":-0.1},
      {"k":12,"g":6,"c":"HCP","0":-0.4,"1":0.0,"2":-0.7,"3":-0.8},
      {"k":12,"g":7,"c":"HCP","0":-0.2,"1":0.4,"2":-0.3,"3":-0.3},
      {"k":12,"g":8,"c":"HCP","0":-0.3,"1":0.3,"2":-0.4,"3":-0.4},

      {"k":13,"g":0,"c":"CCP","0":-0.06,"1":0.22,"2":0.53,"3":0.61},
      {"k":13,"g":0,"c":"CIP","0":-0.06,"1":0.01,"2":0.16,"3":-0.26},
      {"k":13,"g":0,"c":"HCP","0":-0.06,"1":0.07,"2":0.06,"3":0.1},
      {"k":13,"g":1,"c":"CCP","0":0.1,"1":0.4,"2":0.8,"3":1.0},
      {"k":13,"g":2,"c":"CCP","0":-0.25,"1":0.0,"2":0.3,"3":0.3},
      {"k":13,"g":3,"c":"CCP","0":0.0,"1":0.3,"2":0.6,"3":0.7},
      {"k":13,"g":4,"c":"CCP","0":-0.15,"1":0.1,"2":0.4,"3":0.5},
      {"k":13,"g":5,"c":"CCP","0":0.05,"1":0.35,"2":0.7,"3":0.8},
      {"k":13,"g":6,"c":"CCP","0":-0.1,"1":0.15,"2":0.5,"3":0.6},
      {"k":13,"g":7,"c":"CCP","0":0.0,"1":0.2,"2":0.4,"3":0.5},
      {"k":13,"g":8,"c":"CCP","0":-0.2,"1":0.1,"2":0.6,"3":0.4},
      {"k":13,"g":1,"c":"CIP","0":0.1,"1":0.2,"2":0.4,"3":0.0},
      {"k":13,"g":2,"c":"CIP","0":-0.25,"1":-0.2,"2":-0.1,"3":-0.7},
      {"k":13,"g":3,"c":"CIP","0":0.0,"1":0.1,"2":0.2,"3":-0.1},
      {"k":13,"g":4,"c":"CIP","0":-0.15,"1":-0.1,"2":0.1,"3":-0.4},
      {"k":13,"g":5,"c":"CIP","0":0.05,"1":0.1,"2":0.3,"3":-0.2},
      {"k":13,"g":6,"c":"CIP","0":-0.1,"1":-0.05,"2":0.0,"3":-0.3},
      {"k":13,"g":7,"c":"CIP","0":0.0,"1":0.0,"2":0.2,"3":-0.3},
      {"k":13,"g":8,"c":"CIP","0":-0.2,"1":0.0,"2":0.1,"3":-0.2},
      {"k":13,"g":1,"c":"HCP","0":0.1,"1":0.2,"2":0.25,"3":0.3},
      {"k":13,"g":2,"c":"HCP","0":-0.25,"1":-0.1,"2":-0.15,"3":-0.1},
      {"k":13,"g":3,"c":"HCP","0":0.0,"1":0.1,"2":0.1,"3":0.2},
      {"k":13,"g":4,"c":"HCP","0":-0.15,"1":0.0,"2":0.0,"3":0.0},
      {"k":13,"g":5,"c":"HCP","0":0.05,"1":0.15,"2":0.2,"3":0.25},
      {"k":13,"g":6,"c":"HCP","0":-0.1,"1":0.0,"2":-0.05,"3":0.05},
      {"k":13,"g":7,"c":"HCP","0":0.0,"1":0.1,"2":0.1,"3":0.1},
      {"k":13,"g":8,"c":"HCP","0":-0.2,"1":0.05,"2":0.0,"3":0.0},

      {"k":14,"g":0,"c":"CCP","0":0,"1":0.02,"2":0.44,"3":0.89},
      {"k":14,"g":0,"c":"CIP","0":0,"1":-0.09,"2":0.14,"3":-0.13},
      {"k":14,"g":0,"c":"HCP","0":0,"1":-0.02,"2":0.09,"3":0.09},
      {"k":14,"g":1,"c":"CCP","0":0.3,"1":0.4,"2":1.0,"3":1.6},
      {"k":14,"g":2,"c":"CCP","0":-0.3,"1":-0.5,"2":0.0,"3":0.4},
      {"k":14,"g":3,"c":"CCP","0":0.1,"1":0.1,"2":0.6,"3":1.1},
      {"k":14,"g":4,"c":"CCP","0":-0.1,"1":-0.1,"2":0.3,"3":0.7},
      {"k":14,"g":5,"c":"CCP","0":0.2,"1":0.2,"2":0.8,"3":1.3},
      {"k":14,"g":6,"c":"CCP","0":0.0,"1":0.0,"2":0.4,"3":0.9},
      {"k":14,"g":7,"c":"CCP","0":0.15,"1":0.1,"2":0.5,"3":0.8},
      {"k":14,"g":8,"c":"CCP","0":-0.2,"1":-0.3,"2":0.2,"3":0.6},
      {"k":14,"g":9,"c":"CCP","0":0.05,"1":0.0,"2":0.5,"3":1.0},
      {"k":14,"g":10,"c":"CCP","0":-0.05,"1":-0.1,"2":0.3,"3":1.2},
      {"k":14,"g":11,"c":"CCP","0":0.25,"1":0.3,"2":0.7,"3":0.9},
      {"k":14,"g":12,"c":"CCP","0":-0.25,"1":-0.2,"2":0.1,"3":0.5},
      {"k":14,"g":1,"c":"CIP","0":0.3,"1":0.2,"2":0.5,"3":0.6},
      {"k":14,"g":2,"c":"CIP","0":-0.3,"1":-0.6,"2":-0.2,"3":-0.8},
      {"k":14,"g":3,"c":"CIP","0":0.1,"1":0.0,"2":0.2,"3":0.0},
      {"k":14,"g":4,"c":"CIP","0":-0.1,"1":-0.2,"2":0.1,"3":-0.3},
      {"k":14,"g":5,"c":"CIP","0":0.2,"1":0.1,"2":0.3,"3":0.1},
      {"k":14,"g":6,"c":"CIP","0":0.0,"1":-0.1,"2":0.1,"3":-0.2},
      {"k":14,"g":7,"c":"CIP","0":0.15,"1":0.0,"2":0.3,"3":-0.1},
      {"k":14,"g":8,"c":"CIP","0":-0.2,"1":-0.3,"2":0.0,"3":-0.5},
      {"k":14,"g":9,"c":"CIP","0":0.05,"1":-0.05,"2":0.2,"3":-0.1},
      {"k":14,"g":10,"c":"CIP","0":-0.05,"1":-0.1,"2":0.0,"3":-0.4},
      {"k":14,"g":11,"c":"CIP","0":0.25,"1":0.1,"2":0.4,"3":0.2},
      {"k":14,"g":12,"c":"CIP","0":-0.25,"1":-0.2,"2":-0.1,"3":-0.2},
      {"k":14,"g":1,"c":"HCP","0":0.3,"1":0.3,"2":0.6,"3":0.5},
      {"k":14,"g":2,"c":"HCP","0":-0.3,"1":-0.4,"2":-0.3,"3":-0.3},
      {"k":14,"g":3,"c":"HCP","0":0.1,"1":0.1,"2":0.2,"3":0.2},
      {"k":14,"g":4,"c":"HCP","0":-0.1,"1":-0.1,"2":0.0,"3":0.0},
      {"k":14,"g":5,"c":"HCP","0":0.2,"1":0.1,"2":0.4,"3":0.3},
      {"k":14,"g":6,"c":"HCP","0":0.0,"1":0.0,"2":0.1,"3":0.1},
      {"k":14,"g":7,"c":"HCP","0":0.15,"1":0.0,"2":0.2,"3":0.2},
      {"k":14,"g":8,"c":"HCP","0":-0.2,"1":-0.2,"2":-0.1,"3":-0.1},
      {"k":14,"g":9,"c":"HCP","0":0.05,"1":0.0,"2":0.1,"3":0.1},
      {"k":14,"g":10,"c":"HCP","0":-0.05,"1":-0.1,"2":0.0,"3":0.0},
      {"k":14,"g":11,"c":"HCP","0":0.25,"1":0.2,"2":0.3,"3":0.4},
      {"k":14,"g":12,"c":"HCP","0":-0.25,"1":-0.1,"2":0.0,"3":-0.2},

      {"k":15,"g":0,"c":"CCP","0":-0.06,"1":0.17,"2":0.11,"3":0.89},
      {"k":15,"g":0,"c":"CIP","0":-0.06,"1":0.08,"2":-0.02,"3":0},
      {"k":15,"g":0,"c":"HCP","0":-0.06,"1":0.03,"2":-0.02,"3":0.03},
      {"k":15,"g":1,"c":"CCP","0":0.2,"1":0.6,"2":0.5,"3":2.0},
      {"k":15,"g":2,"c":"CCP","0":-0.3,"1":-0.2,"2":-0.5,"3":0.4},
      {"k":15,"g":3,"c":"CCP","0":0.0,"1":0.3,"2":0.2,"3":1.0},
      {"k":15,"g":4,"c":"CCP","0":-0.15,"1":0.0,"2":-0.1,"3":0.6},
      {"k":15,"g":5,"c":"CCP","0":0.1,"1":0.4,"2":0.3,"3":1.4},
      {"k":15,"g":6,"c":"CCP","0":-0.1,"1":0.1,"2":0.0,"3":0.8},
      {"k":15,"g":7,"c":"CCP","0":0.05,"1":0.2,"2":0.2,"3":0.7},
      {"k":15,"g":8,"c":"CCP","0":-0.2,"1":0.0,"2":-0.2,"3":0.5},
      {"k":15,"g":9,"c":"CCP","0":0.0,"1":0.2,"2":0.1,"3":1.1},
      {"k":15,"g":10,"c":"CCP","0":-0.1,"1":0.1,"2":0.3,"3":0.9},
      {"k":15,"g":1,"c":"CIP","0":0.2,"1":0.3,"2":0.2,"3":0.6},
      {"k":15,"g":2,"c":"CIP","0":-0.3,"1":-0.2,"2":-0.3,"3":-0.3},
      {"k":15,"g":3,"c":"CIP","0":0.0,"1":0.1,"2":0.0,"3":0.1},
      {"k":15,"g":4,"c":"CIP","0":-0.15,"1":0.0,"2":-0.1,"3":-0.1},
      {"k":15,"g":5,"c":"CIP","0":0.1,"1":0.2,"2":0.1,"3":0.2},
      {"k":15,"g":6,"c":"CIP","0":-0.1,"1":0.05,"2":-0.05,"3":-0.05},
      {"k":15,"g":7,"c":"CIP","0":0.05,"1":0.15,"2":0.0,"3":0.0},
      {"k":15,"g":8,"c":"CIP","0":-0.2,"1":-0.1,"2":-0.2,"3":-0.2},
      {"k":15,"g":9,"c":"CIP","0":0.0,"1":0.1,"2":0.1,"3":0.1},
      {"k":15,"g":10,"c":"CIP","0":-0.1,"1":0.0,"2":-0.1,"3":0.0},
      {"k":15,"g":1,"c":"HCP","0":0.2,"1":0.3,"2":0.2,"3":0.3},
      {"k":15,"g":2,"c":"HCP","0":-0.3,"1":-0.2,"2":-0.7,"3":-0.3},
      {"k":15,"g":3,"c":"HCP","0":0.0,"1":0.1,"2":0.0,"3":0.1},
      {"k":15,"g":4,"c":"HCP","0":-0.15,"1":0.0,"2":-0.1,"3":0.0},
      {"k":15,"g":5,"c":"HCP","0":0.1,"1":0.2,"2":0.1,"3":0.2},
      {"k":15,"g":6,"c":"HCP","0":-0.1,"1":-0.05,"2":-0.05,"3":-0.05},
      {"k":15,"g":7,"c":"HCP","0":0.05,"1":0.1,"2":0.1,"3":0.0},
      {"k":15,"g":8,"c":"HCP","0":-0.2,"1":-0.1,"2":-0.2,"3":-0.2},
      {"k":15,"g":9,"c":"HCP","0":0.0,"1":0.05,"2":0.0,"3":0.1},
      {"k":15,"g":10,"c":"HCP","0":-0.1,"1":0.0,"2":-0.1,"3":0.1},

      {"k":16,"g":0,"c":"CCP","0":0.03,"1":0.15,"2":-0.26,"3":0.85},
      {"k":16,"g":0,"c":"CIP","0":0.03,"1":0,"2":-0.24,"3":-0.59},
      {"k":16,"g":0,"c":"HCP","0":0.02,"1":-0.03,"2":-0.16,"3":0.15},
      {"k":16,"g":1,"c":"CCP","0":0.2,"1":0.6,"2":0.2,"3":1.6},
      {"k":16,"g":2,"c":"CCP","0":-0.2,"1":-0.2,"2":-1.0,"3":0.3},
      {"k":16,"g":3,"c":"CCP","0":0.1,"1":0.3,"2":-0.1,"3":1.0},
      {"k":16,"g":4,"c":"CCP","0":-0.1,"1":0.0,"2":-0.5,"3":0.6},
      {"k":16,"g":5,"c":"CCP","0":0.15,"1":0.4,"2":0.0,"3":1.3},
      {"k":16,"g":6,"c":"CCP","0":0.0,"1":0.1,"2":-0.3,"3":0.8},
      {"k":16,"g":7,"c":"CCP","0":0.05,"1":0.2,"2":-0.2,"3":0.7},
      {"k":16,"g":8,"c":"CCP","0":-0.15,"1":-0.1,"2":-0.6,"3":0.5},
      {"k":16,"g":9,"c":"CCP","0":0.1,"1":0.2,"2":-0.1,"3":1.1},
      {"k":16,"g":10,"c":"CCP","0":0.0,"1":0.1,"2":-0.3,"3":0.9},
      {"k":16,"g":1,"c":"CIP","0":0.2,"1":0.3,"2":0.2,"3":0.0},
      {"k":16,"g":2,"c":"CIP","0":-0.2,"1":-0.3,"2":-0.8,"3":-1.7},
      {"k":16,"g":3,"c":"CIP","0":0.1,"1":0.1,"2":-0.1,"3":-0.4},
      {"k":16,"g":4,"c":"CIP","0":-0.1,"1":-0.1,"2":-0.4,"3":-0.9},
      {"k":16,"g":5,"c":"CIP","0":0.15,"1":0.2,"2":0.0,"3":-0.3},
      {"k":16,"g":6,"c":"CIP","0":0.0,"1":0.0,"2":-0.3,"3":-0.6},
      {"k":16,"g":7,"c":"CIP","0":0.05,"1":0.05,"2":-0.2,"3":-0.5},
      {"k":16,"g":8,"c":"CIP","0":-0.15,"1":-0.2,"2":-0.5,"3":-1.1},
      {"k":16,"g":9,"c":"CIP","0":0.1,"1":0.0,"2":-0.1,"3":-0.2},
      {"k":16,"g":10,"c":"CIP","0":0.0,"1":-0.05,"2":-0.3,"3":-0.8},
      {"k":16,"g":1,"c":"HCP","0":0.2,"1":0.2,"2":0.3,"3":0.6},
      {"k":16,"g":2,"c":"HCP","0":-0.2,"1":-0.3,"2":-1.1,"3":-0.2},
      {"k":16,"g":3,"c":"HCP","0":0.1,"1":0.0,"2":-0.1,"3":0.2},
      {"k":16,"g":4,"c":"HCP","0":-0.1,"1":-0.1,"2":-0.3,"3":0.0},
      {"k":16,"g":5,"c":"HCP","0":0.15,"1":0.1,"2":0.0,"3":0.4},
      {"k":16,"g":6,"c":"HCP","0":0.0,"1":0.0,"2":-0.2,"3":0.1},
      {"k":16,"g":7,"c":"HCP","0":0.05,"1":0.0,"2":-0.1,"3":0.1},
      {"k":16,"g":8,"c":"HCP","0":-0.15,"1":-0.1,"2":-0.4,"3":-0.1},
      {"k":16,"g":9,"c":"HCP","0":0.1,"1":0.0,"2":-0.1,"3":0.3},
      {"k":16,"g":10,"c":"HCP","0":0.0,"1":-0.05,"2":-0.2,"3":0.2},

      {"k":17,"g":0,"c":"CCP","0":0.12,"1":-0.16,"2":-0.61,"3":-0.26},
      {"k":17,"g":0,"c":"CIP","0":0.13,"1":-0.09,"2":0.15,"3":-0.52},
      {"k":17,"g":0,"c":"HCP","0":0.12,"1":-0.07,"2":-0.6,"3":-0.41},
      {"k":17,"g":1,"c":"CCP","0":0.25,"1":-0.8,"2":-1.43,"3":-1.28},
      {"k":17,"g":2,"c":"CCP","0":0.1,"1":0.0,"2":-0.4,"3":-0.1},
      {"k":17,"g":3,"c":"CCP","0":0.0,"1":-0.1,"2":-0.5,"3":-0.2},
      {"k":17,"g":4,"c":"CCP","0":0.15,"1":0.1,"2":-0.3,"3":0.0},
      {"k":17,"g":1,"c":"CIP","0":0.25,"1":-0.93,"2":0.1,"3":-0.7},
      {"k":17,"g":2,"c":"CIP","0":0.1,"1":0.2,"2":0.5,"3":-0.3},
      {"k":17,"g":3,"c":"CIP","0":0.0,"1":-0.1,"2":0.0,"3":-1.1},
      {"k":17,"g":4,"c":"CIP","0":0.15,"1":0.0,"2":0.3,"3":-0.4},
      {"k":17,"g":1,"c":"HCP","0":0.25,"1":-0.4,"2":-1.66,"3":-0.93},
      {"k":17,"g":2,"c":"HCP","0":0.1,"1":0.0,"2":-0.4,"3":-0.3},
      {"k":17,"g":3,"c":"HCP","0":0.0,"1":-0.1,"2":-0.5,"3":-0.4},
      {"k":17,"g":4,"c":"HCP","0":0.15,"1":0.05,"2":-0.3,"3":-0.2},

      {"k":18,"g":0,"c":"CCP","0":0.02,"1":-0.07,"2":0.03,"3":0.01},
      {"k":18,"g":0,"c":"CIP","0":0.03,"1":0.06,"2":0.17,"3":0.03},
      {"k":18,"g":0,"c":"HCP","0":0.04,"1":0.04,"2":-1.06,"3":-0.8},
      {"k":18,"g":1,"c":"CCP","0":0.2,"1":0.3,"2":1.0,"3":0.6},
      {"k":18,"g":2,"c":"CCP","0":-0.2,"1":-0.4,"2":-0.6,"3":-0.6},
      {"k":18,"g":3,"c":"CCP","0":0.1,"1":0.0,"2":0.2,"3":0.3},
      {"k":18,"g":4,"c":"CCP","0":-0.1,"1":-0.2,"2":-0.2,"3":-0.3},
      {"k":18,"g":5,"c":"CCP","0":0.15,"1":0.1,"2":0.4,"3":0.1},
      {"k":18,"g":6,"c":"CCP","0":0.0,"1":-0.1,"2":0.0,"3":0.0},
      {"k":18,"g":7,"c":"CCP","0":0.05,"1":0.05,"2":0.2,"3":0.4},
      {"k":18,"g":8,"c":"CCP","0":-0.15,"1":-0.3,"2":-0.3,"3":-0.4},
      {"k":18,"g":9,"c":"CCP","0":0.1,"1":0.1,"2":0.1,"3":0.2},
      {"k":18,"g":10,"c":"CCP","0":-0.05,"1":-0.1,"2":-0.1,"3":-0.2},
      {"k":18,"g":11,"c":"CCP","0":0.2,"1":0.2,"2":0.3,"3":0.5},
      {"k":18,"g":12,"c":"CCP","0":-0.1,"1":-0.2,"2":-0.4,"3":-0.1},
      {"k":18,"g":1,"c":"CIP","0":0.2,"1":0.3,"2":1.0,"3":1.8},
      {"k":18,"g":2,"c":"CIP","0":-0.2,"1":-0.3,"2":-0.4,"3":-0.6},
      {"k":18,"g":3,"c":"CIP","0":0.1,"1":0.1,"2":0.3,"3":0.2},
      {"k":18,"g":4,"c":"CIP","0":-0.1,"1":-0.1,"2":0.0,"3":-0.2},
      {"k":18,"g":5,"c":"CIP","0":0.15,"1":0.2,"2":0.5,"3":0.3},
      {"k":18,"g":6,"c":"CIP","0":0.0,"1":0.0,"2":0.1,"3":0.0},
      {"k":18,"g":7,"c":"CIP","0":0.05,"1":0.1,"2":0.2,"3":0.1},
      {"k":18,"g":8,"c":"CIP","0":-0.15,"1":-0.2,"2":-0.2,"3":-0.4},
      {"k":18,"g":9,"c":"CIP","0":0.1,"1":0.1,"2":0.2,"3":0.1},
      {"k":18,"g":10,"c":"CIP","0":-0.05,"1":0.0,"2":0.1,"3":-0.1},
      {"k":18,"g":11,"c":"CIP","0":0.2,"1":0.3,"2":0.4,"3":0.5},
      {"k":18,"g":12,"c":"CIP","0":-0.1,"1":0.0,"2":-0.1,"3":-0.3},
      {"k":18,"g":1,"c":"HCP","0":0.2,"1":0.3,"2":-0.3,"3":-0.2},
      {"k":18,"g":2,"c":"HCP","0":-0.2,"1":-0.3,"2":-2.0,"3":-2.0},
      {"k":18,"g":3,"c":"HCP","0":0.1,"1":0.1,"2":-0.7,"3":-0.5},
      {"k":18,"g":4,"c":"HCP","0":-0.1,"1":-0.1,"2":-1.4,"3":-1.1},
      {"k":18,"g":5,"c":"HCP","0":0.15,"1":0.2,"2":-0.5,"3":-0.3},
      {"k":18,"g":6,"c":"HCP","0":0.0,"1":0.0,"2":-1.1,"3":-0.9},
      {"k":18,"g":7,"c":"HCP","0":0.05,"1":0.1,"2":-0.9,"3":-0.6},
      {"k":18,"g":8,"c":"HCP","0":-0.15,"1":-0.2,"2":-1.7,"3":-1.4},
      {"k":18,"g":9,"c":"HCP","0":0.1,"1":0.1,"2":-0.8,"3":-0.7},
      {"k":18,"g":10,"c":"HCP","0":-0.05,"1":0.0,"2":-1.2,"3":-0.8},
      {"k":18,"g":11,"c":"HCP","0":0.2,"1":0.2,"2":-0.6,"3":-0.4},
      {"k":18,"g":12,"c":"HCP","0":-0.1,"1":-0.1,"2":-1.5,"3":-1.0},

      {"k":19,"g":0,"c":"CCP","0":-0.09,"1":-0.28,"2":-0.17,"3":0.04},
      {"k":19,"g":0,"c":"CIP","0":-0.09,"1":-0.26,"2":0.05,"3":0.02},
      {"k":19,"g":0,"c":"HCP","0":-0.09,"1":-0.3,"2":-0.76,"3":0.49},
      {"k":19,"g":1,"c":"CCP","0":0.05,"1":-0.15,"2":0.1,"3":0.5},
      {"k":19,"g":2,"c":"CCP","0":-0.3,"1":-0.1,"2":-0.7,"3":-0.5},
      {"k":19,"g":3,"c":"CCP","0":0.0,"1":-0.4,"2":-0.2,"3":0.1},
      {"k":19,"g":4,"c":"CCP","0":-0.1,"1":-0.3,"2":0.0,"3":-0.3},
      {"k":19,"g":1,"c":"CIP","0":0.05,"1":-0.1,"2":0.3,"3":0.1},
      {"k":19,"g":2,"c":"CIP","0":-0.3,"1":-0.55,"2":-0.1,"3":-0.1},
      {"k":19,"g":3,"c":"CIP","0":0.0,"1":-0.3,"2":0.2,"3":0.1},
      {"k":19,"g":4,"c":"CIP","0":-0.1,"1":-0.2,"2":-0.1,"3":0.0},
      {"k":19,"g":1,"c":"HCP","0":0.05,"1":-0.2,"2":-0.6,"3":0.8},
      {"k":19,"g":2,"c":"HCP","0":-0.3,"1":-0.4,"2":-0.95,"3":0.2},
      {"k":19,"g":3,"c":"HCP","0":0.0,"1":-0.3,"2":-0.8,"3":0.5},
      {"k":19,"g":4,"c":"HCP","0":-0.1,"1":-0.25,"2":-0.7,"3":0.4},

      {"k":20,"g":0,"c":"CCP","0":0,"1":0.08,"2":0.21,"3":0.68},
      {"k":20,"g":0,"c":"CIP","0":0,"1":0.04,"2":0.3,"3":-0.14},
      {"k":20,"g":0,"c":"HCP","0":0,"1":0.02,"2":-0.95,"3":-0.45},
      {"k":20,"g":1,"c":"CCP","0":0.2,"1":1.3,"2":0.9,"3":1.5},
      {"k":20,"g":2,"c":"CCP","0":-0.2,"1":-0.7,"2":-0.5,"3":0.0},
      {"k":20,"g":3,"c":"CCP","0":0.1,"1":0.3,"2":0.4,"3":1.0},
      {"k":20,"g":4,"c":"CCP","0":-0.1,"1":-0.2,"2":0.0,"3":0.4},
      {"k":20,"g":5,"c":"CCP","0":0.15,"1":0.5,"2":1.3,"3":1.2},
      {"k":20,"g":6,"c":"CCP","0":0.0,"1":0.0,"2":0.1,"3":0.6},
      {"k":20,"g":7,"c":"CCP","0":0.05,"1":0.1,"2":0.3,"3":0.8},
      {"k":20,"g":8,"c":"CCP","0":-0.15,"1":-0.3,"2":-0.2,"3":0.2},
      {"k":20,"g":9,"c":"CCP","0":0.1,"1":0.2,"2":0.5,"3":0.9},
      {"k":20,"g":10,"c":"CCP","0":-0.05,"1":-0.1,"2":0.0,"3":0.5},
      {"k":20,"g":11,"c":"CCP","0":0.2,"1":0.4,"2":0.2,"3":1.3},
      {"k":20,"g":12,"c":"CCP","0":-0.1,"1":-0.2,"2":-0.3,"3":0.3},
      {"k":20,"g":1,"c":"CIP","0":0.2,"1":1.2,"2":0.8,"3":0.5},
      {"k":20,"g":2,"c":"CIP","0":-0.2,"1":-0.5,"2":-0.4,"3":-0.7},
      {"k":20,"g":3,"c":"CIP","0":0.1,"1":0.2,"2":0.5,"3":0.1},
      {"k":20,"g":4,"c":"CIP","0":-0.1,"1":-0.2,"2":0.0,"3":-0.3},
      {"k":20,"g":5,"c":"CIP","0":0.15,"1":0.4,"2":1.0,"3":0.3},
      {"k":20,"g":6,"c":"CIP","0":0.0,"1":0.0,"2":0.3,"3":-0.1},
      {"k":20,"g":7,"c":"CIP","0":0.05,"1":0.1,"2":0.4,"3":-0.2},
      {"k":20,"g":8,"c":"CIP","0":-0.15,"1":-0.3,"2":-0.1,"3":-0.5},
      {"k":20,"g":9,"c":"CIP","0":0.1,"1":0.2,"2":0.6,"3":0.0},
      {"k":20,"g":10,"c":"CIP","0":-0.05,"1":-0.1,"2":0.2,"3":-0.2},
      {"k":20,"g":11,"c":"CIP","0":0.2,"1":0.5,"2":0.3,"3":0.2},
      {"k":20,"g":12,"c":"CIP","0":-0.1,"1":-0.1,"2":0.1,"3":-0.4},
      {"k":20,"g":1,"c":"HCP","0":0.2,"1":0.7,"2":-0.1,"3":0.3},
      {"k":20,"g":2,"c":"HCP","0":-0.2,"1":-0.3,"2":-2.0,"3":-2.0},
      {"k":20,"g":3,"c":"HCP","0":0.1,"1":0.1,"2":-0.5,"3":-0.1},
      {"k":20,"g":4,"c":"HCP","0":-0.1,"1":-0.1,"2":-1.3,"3":-0.8},
      {"k":20,"g":5,"c":"HCP","0":0.15,"1":0.3,"2":-0.3,"3":0.1},
      {"k":20,"g":6,"c":"HCP","0":0.0,"1":0.0,"2":-0.9,"3":-0.4},
      {"k":20,"g":7,"c":"HCP","0":0.05,"1":0.1,"2":-0.7,"3":-0.3},
      {"k":20,"g":8,"c":"HCP","0":-0.15,"1":-0.2,"2":-1.6,"3":-1.1},
      {"k":20,"g":9,"c":"HCP","0":0.1,"1":0.1,"2":-0.8,"3":-0.2},
      {"k":20,"g":10,"c":"HCP","0":-0.05,"1":0.0,"2":-1.1,"3":-0.6},
      {"k":20,"g":11,"c":"HCP","0":0.2,"1":0.2,"2":-0.6,"3":0.0},
      {"k":20,"g":12,"c":"HCP","0":-0.1,"1":-0.1,"2":-1.5,"3":-0.7},

      {"k":21,"g":0,"c":"CCP","0":-0.35,"1":0.12,"2":0.38,"3":0.34},
      {"k":21,"g":0,"c":"CIP","0":-0.37,"1":0.1,"2":0.02,"3":0.28},
      {"k":21,"g":0,"c":"HCP","0":-0.35,"1":-0.01,"2":0.1,"3":0.14},
      {"k":21,"g":1,"c":"CCP","0":-0.1,"1":0.4,"2":0.7,"3":0.6},
      {"k":21,"g":2,"c":"CCP","0":-0.7,"1":-0.2,"2":-0.2,"3":-0.1},
      {"k":21,"g":3,"c":"CCP","0":-0.3,"1":0.2,"2":0.5,"3":0.4},
      {"k":21,"g":4,"c":"CCP","0":-0.5,"1":0.0,"2":0.2,"3":0.2},
      {"k":21,"g":5,"c":"CCP","0":-0.2,"1":0.3,"2":0.6,"3":0.5},
      {"k":21,"g":6,"c":"CCP","0":-0.4,"1":-0.1,"2":0.3,"3":0.3},
      {"k":21,"g":7,"c":"CCP","0":-0.3,"1":0.1,"2":0.4,"3":0.2},
      {"k":21,"g":8,"c":"CCP","0":-0.45,"1":0.2,"2":0.1,"3":0.4},
      {"k":21,"g":1,"c":"CIP","0":-0.1,"1":0.5,"2":0.3,"3":0.6},
      {"k":21,"g":2,"c":"CIP","0":-0.7,"1":-0.3,"2":-0.3,"3":-0.1},
      {"k":21,"g":3,"c":"CIP","0":-0.3,"1":0.2,"2":0.1,"3":0.4},
      {"k":21,"g":4,"c":"CIP","0":-0.5,"1":0.0,"2":-0.1,"3":0.1},
      {"k":21,"g":5,"c":"CIP","0":-0.2,"1":0.3,"2":0.2,"3":0.5},
      {"k":21,"g":6,"c":"CIP","0":-0.4,"1":-0.1,"2":-0.2,"3":0.2},
      {"k":21,"g":7,"c":"CIP","0":-0.3,"1":0.1,"2":0.0,"3":0.3},
      {"k":21,"g":8,"c":"CIP","0":-0.45,"1":0.1,"2":0.1,"3":0.2},
      {"k":21,"g":1,"c":"HCP","0":-0.1,"1":0.4,"2":0.4,"3":0.4},
      {"k":21,"g":2,"c":"HCP","0":-0.7,"1":-0.4,"2":-0.3,"3":-0.1},
      {"k":21,"g":3,"c":"HCP","0":-0.3,"1":0.1,"2":0.2,"3":0.3},
      {"k":21,"g":4,"c":"HCP","0":-0.5,"1":-0.2,"2":0.0,"3":0.0},
      {"k":21,"g":5,"c":"HCP","0":-0.2,"1":0.2,"2":0.3,"3":0.35},
      {"k":21,"g":6,"c":"HCP","0":-0.4,"1":-0.1,"2":-0.1,"3":0.1},
      {"k":21,"g":7,"c":"HCP","0":-0.3,"1":0.0,"2":0.1,"3":0.2},
      {"k":21,"g":8,"c":"HCP","0":-0.45,"1":-0.1,"2":0.2,"3":0.0},

      {"k":22,"g":0,"c":"CCP","0":-0.19,"1":-0.13,"2":0.72,"3":0.46},
      {"k":22,"g":0,"c":"CIP","0":-0.13,"1":-0.03,"2":-0.18,"3":0.34},
      {"k":22,"g":0,"c":"HCP","0":-0.18,"1":-0.13,"2":-0.49,"3":-0.05},
      {"k":22,"g":1,"c":"CCP","0":0.1,"1":0.8,"2":2.0,"3":1.4},
      {"k":22,"g":2,"c":"CCP","0":-0.5,"1":-1.0,"2":-0.5,"3":-0.3},
      {"k":22,"g":3,"c":"CCP","0":-0.1,"1":0.0,"2":1.0,"3":0.6},
      {"k":22,"g":4,"c":"CCP","0":-0.3,"1":-0.4,"2":0.3,"3":0.2},
      {"k":22,"g":5,"c":"CCP","0":0.0,"1":0.3,"2":1.5,"3":0.9},
      {"k":22,"g":6,"c":"CCP","0":-0.2,"1":-0.2,"2":0.6,"3":0.4},
      {"k":22,"g":7,"c":"CCP","0":-0.15,"1":0.1,"2":0.8,"3":0.1},
      {"k":22,"g":8,"c":"CCP","0":-0.4,"1":-0.6,"2":0.0,"3":0.0},
      {"k":22,"g":9,"c":"CCP","0":-0.1,"1":0.2,"2":1.2,"3":1.0},
      {"k":22,"g":10,"c":"CCP","0":-0.25,"1":-0.3,"2":0.4,"3":0.3},
      {"k":22,"g":1,"c":"CIP","0":0.1,"1":0.7,"2":0.6,"3":1.3},
      {"k":22,"g":2,"c":"CIP","0":-0.5,"1":-0.8,"2":-0.9,"3":-0.4},
      {"k":22,"g":3,"c":"CIP","0":-0.1,"1":0.1,"2":0.0,"3":0.5},
      {"k":22,"g":4,"c":"CIP","0":-0.3,"1":-0.3,"2":-0.4,"3":0.1},
      {"k":22,"g":5,"c":"CIP","0":0.0,"1":0.3,"2":0.3,"3":0.8},
      {"k":22,"g":6,"c":"CIP","0":-0.2,"1":-0.1,"2":-0.2,"3":0.3},
      {"k":22,"g":7,"c":"CIP","0":-0.15,"1":0.0,"2":-0.1,"3":0.2},
      {"k":22,"g":8,"c":"CIP","0":-0.4,"1":-0.4,"2":-0.6,"3":0.0},
      {"k":22,"g":9,"c":"CIP","0":-0.1,"1":0.2,"2":0.1,"3":0.6},
      {"k":22,"g":10,"c":"CIP","0":-0.25,"1":-0.2,"2":-0.3,"3":0.0},
      {"k":22,"g":1,"c":"HCP","0":0.1,"1":0.5,"2":0.5,"3":0.6},
      {"k":22,"g":2,"c":"HCP","0":-0.5,"1":-0.7,"2":-2.0,"3":-1.0},
      {"k":22,"g":3,"c":"HCP","0":-0.1,"1":0.0,"2":-0.2,"3":0.1},
      {"k":22,"g":4,"c":"HCP","0":-0.3,"1":-0.3,"2":-0.9,"3":-0.3},
      {"k":22,"g":5,"c":"HCP","0":0.0,"1":0.2,"2":0.1,"3":0.3},
      {"k":22,"g":6,"c":"HCP","0":-0.2,"1":-0.2,"2":-0.5,"3":0.0},
      {"k":22,"g":7,"c":"HCP","0":-0.15,"1":-0.1,"2":-0.3,"3":-0.1},
      {"k":22,"g":8,"c":"HCP","0":-0.4,"1":-0.4,"2":-1.3,"3":-0.5},
      {"k":22,"g":9,"c":"HCP","0":-0.1,"1":0.1,"2":0.0,"3":0.2},
      {"k":22,"g":10,"c":"HCP","0":-0.25,"1":-0.3,"2":-0.6,"3":-0.2},

      {"k":23,"g":0,"c":"CCP","0":-0.03,"1":-0.1,"2":0.3,"3":-0.15},
      {"k":23,"g":0,"c":"CIP","0":-0.05,"1":0.12,"2":0.08,"3":0.97},
      {"k":23,"g":0,"c":"HCP","0":-0.03,"1":0.1,"2":-0.03,"3":-0.3},
      {"k":23,"g":1,"c":"CCP","0":0.2,"1":0.4,"2":0.9,"3":0.4},
      {"k":23,"g":2,"c":"CCP","0":-0.3,"1":-0.5,"2":-0.3,"3":-0.8},
      {"k":23,"g":3,"c":"CCP","0":0.0,"1":0.0,"2":0.4,"3":0.0},
      {"k":23,"g":4,"c":"CCP","0":-0.15,"1":-0.3,"2":0.1,"3":-0.4},
      {"k":23,"g":5,"c":"CCP","0":0.1,"1":0.2,"2":0.6,"3":0.2},
      {"k":23,"g":6,"c":"CCP","0":-0.1,"1":-0.2,"2":0.2,"3":-0.3},
      {"k":23,"g":7,"c":"CCP","0":0.05,"1":0.1,"2":0.5,"3":-0.1},
      {"k":23,"g":8,"c":"CCP","0":-0.2,"1":-0.1,"2":0.0,"3":-0.2},
      {"k":23,"g":1,"c":"CIP","0":0.2,"1":0.5,"2":0.5,"3":1.6},
      {"k":23,"g":2,"c":"CIP","0":-0.3,"1":-0.3,"2":-0.3,"3":0.5},
      {"k":23,"g":3,"c":"CIP","0":0.0,"1":0.2,"2":0.1,"3":1.0},
      {"k":23,"g":4,"c":"CIP","0":-0.15,"1":0.0,"2":-0.1,"3":0.7},
      {"k":23,"g":5,"c":"CIP","0":0.1,"1":0.3,"2":0.3,"3":1.3},
      {"k":23,"g":6,"c":"CIP","0":-0.1,"1":0.1,"2":0.0,"3":0.8},
      {"k":23,"g":7,"c":"CIP","0":0.05,"1":0.2,"2":0.2,"3":1.1},
      {"k":23,"g":8,"c":"CIP","0":-0.2,"1":-0.1,"2":-0.1,"3":0.9},
      {"k":23,"g":1,"c":"HCP","0":0.2,"1":0.6,"2":0.4,"3":0.2},
      {"k":23,"g":2,"c":"HCP","0":-0.3,"1":-0.3,"2":-0.6,"3":-1.2},
      {"k":23,"g":3,"c":"HCP","0":0.0,"1":0.1,"2":0.0,"3":-0.2},
      {"k":23,"g":4,"c":"HCP","0":-0.15,"1":0.0,"2":-0.2,"3":-0.5},
      {"k":23,"g":5,"c":"HCP","0":0.1,"1":0.3,"2":0.2,"3":0.0},
      {"k":23,"g":6,"c":"HCP","0":-0.1,"1":0.0,"2":-0.1,"3":-0.4},
      {"k":23,"g":7,"c":"HCP","0":0.05,"1":0.2,"2":0.1,"3":-0.1},
      {"k":23,"g":8,"c":"HCP","0":-0.2,"1":0.0,"2":-0.1,"3":-0.3},

      {"k":24,"g":0,"c":"CCP","0":0.05,"1":-0.78,"2":-0.08,"3":0},
      {"k":24,"g":0,"c":"CIP","0":0.05,"1":-0.67,"2":-0.18,"3":-0.18},
      {"k":24,"g":0,"c":"HCP","0":0.05,"1":-0.67,"2":-0.08,"3":-0.13},
      {"k":24,"g":1,"c":"CCP","0":0.3,"1":-0.6,"2":0.1,"3":0.1},
      {"k":24,"g":2,"c":"CCP","0":-0.1,"1":-1.0,"2":-0.3,"3":-0.1},
      {"k":24,"g":3,"c":"CCP","0":0.1,"1":-0.7,"2":0.0,"3":0.05},
      {"k":24,"g":4,"c":"CCP","0":0.0,"1":-0.85,"2":-0.1,"3":-0.1},
      {"k":24,"g":1,"c":"CIP","0":0.3,"1":-0.5,"2":0.0,"3":0.0},
      {"k":24,"g":2,"c":"CIP","0":-0.1,"1":-0.9,"2":-0.4,"3":-0.3},
      {"k":24,"g":3,"c":"CIP","0":0.1,"1":-0.6,"2":-0.1,"3":-0.1},
      {"k":24,"g":4,"c":"CIP","0":0.0,"1":-0.7,"2":-0.2,"3":-0.3},
      {"k":24,"g":1,"c":"HCP","0":0.3,"1":-0.5,"2":0.1,"3":0.0},
      {"k":24,"g":2,"c":"HCP","0":-0.1,"1":-0.9,"2":-0.3,"3":-0.3},
      {"k":24,"g":3,"c":"HCP","0":0.1,"1":-0.6,"2":0.0,"3":-0.1},
      {"k":24,"g":4,"c":"HCP","0":0.0,"1":-0.7,"2":-0.1,"3":-0.15},

      {"k":25,"g":0,"c":"CCP","0":-0.05,"1":-0.6,"2":0.3,"3":-0.18},
      {"k":25,"g":0,"c":"CIP","0":-0.05,"1":-0.4,"2":0.2,"3":0.38},
      {"k":25,"g":0,"c":"HCP","0":-0.05,"1":-0.35,"2":0.18,"3":-0.2},
      {"k":25,"g":1,"c":"CCP","0":0.15,"1":-0.3,"2":0.6,"3":0.1},
      {"k":25,"g":2,"c":"CCP","0":-0.3,"1":-0.9,"2":0.0,"3":-0.5},
      {"k":25,"g":3,"c":"CCP","0":0.0,"1":-0.5,"2":0.4,"3":-0.1},
      {"k":25,"g":4,"c":"CCP","0":-0.15,"1":-0.7,"2":0.2,"3":-0.3},
      {"k":25,"g":5,"c":"CCP","0":0.1,"1":-0.4,"2":0.5,"3":0.0},
      {"k":25,"g":6,"c":"CCP","0":-0.1,"1":-0.8,"2":0.1,"3":-0.2},
      {"k":25,"g":7,"c":"CCP","0":0.05,"1":-0.6,"2":0.3,"3":-0.15},
      {"k":25,"g":8,"c":"CCP","0":-0.2,"1":-0.5,"2":0.25,"3":-0.3},
      {"k":25,"g":1,"c":"CIP","0":0.15,"1":-0.1,"2":0.5,"3":0.6},
      {"k":25,"g":2,"c":"CIP","0":-0.3,"1":-0.7,"2":-0.1,"3":0.1},
      {"k":25,"g":3,"c":"CIP","0":0.0,"1":-0.3,"2":0.3,"3":0.4},
      {"k":25,"g":4,"c":"CIP","0":-0.15,"1":-0.5,"2":0.1,"3":0.3},
      {"k":25,"g":5,"c":"CIP","0":0.1,"1":-0.2,"2":0.4,"3":0.5},
      {"k":25,"g":6,"c":"CIP","0":-0.1,"1":-0.6,"2":0.0,"3":0.2},
      {"k":25,"g":7,"c":"CIP","0":0.05,"1":-0.4,"2":0.2,"3":0.45},
      {"k":25,"g":8,"c":"CIP","0":-0.2,"1":-0.4,"2":0.15,"3":0.3},
      {"k":25,"g":1,"c":"HCP","0":0.15,"1":0.0,"2":0.6,"3":0.1},
      {"k":25,"g":2,"c":"HCP","0":-0.3,"1":-0.7,"2":-0.2,"3":-0.6},
      {"k":25,"g":3,"c":"HCP","0":0.0,"1":-0.3,"2":0.3,"3":-0.1},
      {"k":25,"g":4,"c":"HCP","0":-0.15,"1":-0.5,"2":0.1,"3":-0.3},
      {"k":25,"g":5,"c":"HCP","0":0.1,"1":-0.2,"2":0.4,"3":0.0},
      {"k":25,"g":6,"c":"HCP","0":-0.1,"1":-0.6,"2":0.0,"3":-0.4},
      {"k":25,"g":7,"c":"HCP","0":0.05,"1":-0.3,"2":0.2,"3":-0.15},
      {"k":25,"g":8,"c":"HCP","0":-0.2,"1":-0.4,"2":0.1,"3":-0.3}
    ]
  },
  "data": {"name": "expr"},
  "transform": [{"fold": ["0", "1", "2", "3"], "as": ["t", "v"]}],
  "spacing": 1.8,
  "vconcat": [
    {"spacing": 8.7, "hconcat": [
      {"transform":[{"filter":"datum.k==1"}],"facet":{"column":{"field":"c","title":null}},"spacing":10.5,"bounds":"flush","spec":{"width":57,"height":155,"encoding":{"x":{"field":"t","type":"quantitative","scale":{"domain":[0,3]},"axis":{"title":null,"values":[0,1,2,3],"labelExpr":"['0','6','24','48'][datum.value]"}},"y":{"field":"v","type":"quantitative","scale":{"domain":[-2,2]},"axis":{"title":"Expression values","values":[-2,-1.585,-1,0,1,1.585,2],"labelExpr":"datum.value==0?'Eq.':(datum.value>0?'+':'\u2212')+format(pow(2,abs(datum.value)),'.0f')"}}},"layer":[{"transform":[{"filter":"datum.g>0"}],"mark":{"type":"line","clip":true,"color":"#e3000f","strokeWidth":0.8,"opacity":0.35},"encoding":{"detail":{"field":"g"}}},{"transform":[{"filter":"datum.g==0"}],"mark":{"type":"line","color":"#e3000f","strokeWidth":3}},{"transform":[{"filter":"datum.g==0&&datum.t=='0'&&datum.c=='CCP'"}],"mark":{"type":"circle","size":560,"color":"black","opacity":1},"encoding":{"x":{"datum":0.65},"y":{"datum":-1.7}}},{"transform":[{"filter":"datum.g==0&&datum.t=='0'&&datum.c=='CCP'"}],"mark":{"type":"text","color":"white","fontSize":16,"fontWeight":"bold"},"encoding":{"x":{"datum":0.65},"y":{"datum":-1.7},"text":{"field":"k"}}}]}},
      {"transform":[{"filter":"datum.k==2"}],"facet":{"column":{"field":"c","title":null}},"spacing":10.5,"bounds":"flush","spec":{"width":57,"height":155,"encoding":{"x":{"field":"t","type":"quantitative","scale":{"domain":[0,3]},"axis":{"title":null,"values":[0,1,2,3],"labelExpr":"['0','6','24','48'][datum.value]"}},"y":{"field":"v","type":"quantitative","scale":{"domain":[-2,2]},"axis":{"title":null,"values":[-2,-1.585,-1,0,1,1.585,2],"labelExpr":"datum.value==0?'Eq.':(datum.value>0?'+':'\u2212')+format(pow(2,abs(datum.value)),'.0f')"}}},"layer":[{"transform":[{"filter":"datum.g>0"}],"mark":{"type":"line","clip":true,"color":"#e8400c","strokeWidth":0.8,"opacity":0.35},"encoding":{"detail":{"field":"g"}}},{"transform":[{"filter":"datum.g==0"}],"mark":{"type":"line","color":"#e8400c","strokeWidth":3}},{"transform":[{"filter":"datum.g==0&&datum.t=='0'&&datum.c=='CCP'"}],"mark":{"type":"circle","size":560,"color":"black","opacity":1},"encoding":{"x":{"datum":0.65},"y":{"datum":-1.7}}},{"transform":[{"filter":"datum.g==0&&datum.t=='0'&&datum.c=='CCP'"}],"mark":{"type":"text","color":"white","fontSize":16,"fontWeight":"bold"},"encoding":{"x":{"datum":0.65},"y":{"datum":-1.7},"text":{"field":"k"}}}]}},
      {"transform":[{"filter":"datum.k==3"}],"facet":{"column":{"field":"c","title":null}},"spacing":10.5,"bounds":"flush","spec":{"width":57,"height":155,"encoding":{"x":{"field":"t","type":"quantitative","scale":{"domain":[0,3]},"axis":{"title":null,"values":[0,1,2,3],"labelExpr":"['0','6','24','48'][datum.value]"}},"y":{"field":"v","type":"quantitative","scale":{"domain":[-2,2]},"axis":{"title":null,"values":[-2,-1.585,-1,0,1,1.585,2],"labelExpr":"datum.value==0?'Eq.':(datum.value>0?'+':'\u2212')+format(pow(2,abs(datum.value)),'.0f')"}}},"layer":[{"transform":[{"filter":"datum.g>0"}],"mark":{"type":"line","clip":true,"color":"#e8720c","strokeWidth":0.8,"opacity":0.3},"encoding":{"detail":{"field":"g"}}},{"transform":[{"filter":"datum.g==0"}],"mark":{"type":"line","color":"#e8720c","strokeWidth":3}},{"transform":[{"filter":"datum.g==0&&datum.t=='0'&&datum.c=='CCP'"}],"mark":{"type":"circle","size":560,"color":"black","opacity":1},"encoding":{"x":{"datum":0.65},"y":{"datum":-1.7}}},{"transform":[{"filter":"datum.g==0&&datum.t=='0'&&datum.c=='CCP'"}],"mark":{"type":"text","color":"white","fontSize":16,"fontWeight":"bold"},"encoding":{"x":{"datum":0.65},"y":{"datum":-1.7},"text":{"field":"k"}}}]}},
      {"transform":[{"filter":"datum.k==4"}],"facet":{"column":{"field":"c","title":null}},"spacing":10.5,"bounds":"flush","spec":{"width":57,"height":155,"encoding":{"x":{"field":"t","type":"quantitative","scale":{"domain":[0,3]},"axis":{"title":null,"values":[0,1,2,3],"labelExpr":"['0','6','24','48'][datum.value]"}},"y":{"field":"v","type":"quantitative","scale":{"domain":[-2,2]},"axis":{"title":null,"values":[-2,-1.585,-1,0,1,1.585,2],"labelExpr":"datum.value==0?'Eq.':(datum.value>0?'+':'\u2212')+format(pow(2,abs(datum.value)),'.0f')"}}},"layer":[{"transform":[{"filter":"datum.g>0"}],"mark":{"type":"line","clip":true,"color":"#eaa810","strokeWidth":0.9,"opacity":0.4},"encoding":{"detail":{"field":"g"}}},{"transform":[{"filter":"datum.g==0"}],"mark":{"type":"line","color":"#e0a000","strokeWidth":3}},{"transform":[{"filter":"datum.g==0&&datum.t=='0'&&datum.c=='CCP'"}],"mark":{"type":"circle","size":560,"color":"black","opacity":1},"encoding":{"x":{"datum":0.65},"y":{"datum":-1.7}}},{"transform":[{"filter":"datum.g==0&&datum.t=='0'&&datum.c=='CCP'"}],"mark":{"type":"text","color":"white","fontSize":16,"fontWeight":"bold"},"encoding":{"x":{"datum":0.65},"y":{"datum":-1.7},"text":{"field":"k"}}}]}},
      {"transform":[{"filter":"datum.k==5"}],"facet":{"column":{"field":"c","title":null}},"spacing":10.5,"bounds":"flush","spec":{"width":57,"height":155,"encoding":{"x":{"field":"t","type":"quantitative","scale":{"domain":[0,3]},"axis":{"title":null,"values":[0,1,2,3],"labelExpr":"['0','6','24','48'][datum.value]"}},"y":{"field":"v","type":"quantitative","scale":{"domain":[-2,2]},"axis":{"title":null,"values":[-2,-1.585,-1,0,1,1.585,2],"labelExpr":"datum.value==0?'Eq.':(datum.value>0?'+':'\u2212')+format(pow(2,abs(datum.value)),'.0f')"}}},"layer":[{"transform":[{"filter":"datum.g>0"}],"mark":{"type":"line","clip":true,"color":"#f0d800","strokeWidth":0.9,"opacity":0.4},"encoding":{"detail":{"field":"g"}}},{"transform":[{"filter":"datum.g==0"}],"mark":{"type":"line","color":"#e0cc00","strokeWidth":3}},{"transform":[{"filter":"datum.g==0&&datum.t=='0'&&datum.c=='CCP'"}],"mark":{"type":"circle","size":560,"color":"black","opacity":1},"encoding":{"x":{"datum":0.65},"y":{"datum":-1.7}}},{"transform":[{"filter":"datum.g==0&&datum.t=='0'&&datum.c=='CCP'"}],"mark":{"type":"text","color":"white","fontSize":16,"fontWeight":"bold"},"encoding":{"x":{"datum":0.65},"y":{"datum":-1.7},"text":{"field":"k"}}}]}}
    ]},
    {"spacing": 8.7, "hconcat": [
      {"transform":[{"filter":"datum.k==6"}],"facet":{"column":{"field":"c","title":null,"header":{"labels":false}}},"spacing":10.5,"bounds":"flush","spec":{"width":57,"height":155,"encoding":{"x":{"field":"t","type":"quantitative","scale":{"domain":[0,3]},"axis":{"title":null,"values":[0,1,2,3],"labelExpr":"['0','6','24','48'][datum.value]"}},"y":{"field":"v","type":"quantitative","scale":{"domain":[-2,2]},"axis":{"title":"Expression values","values":[-2,-1.585,-1,0,1,1.585,2],"labelExpr":"datum.value==0?'Eq.':(datum.value>0?'+':'\u2212')+format(pow(2,abs(datum.value)),'.0f')"}}},"layer":[{"transform":[{"filter":"datum.g>0"}],"mark":{"type":"line","clip":true,"color":"#c8e000","strokeWidth":0.9,"opacity":0.4},"encoding":{"detail":{"field":"g"}}},{"transform":[{"filter":"datum.g==0"}],"mark":{"type":"line","color":"#c0d800","strokeWidth":3}},{"transform":[{"filter":"datum.g==0&&datum.t=='0'&&datum.c=='CCP'"}],"mark":{"type":"circle","size":560,"color":"black","opacity":1},"encoding":{"x":{"datum":0.65},"y":{"datum":-1.7}}},{"transform":[{"filter":"datum.g==0&&datum.t=='0'&&datum.c=='CCP'"}],"mark":{"type":"text","color":"white","fontSize":16,"fontWeight":"bold"},"encoding":{"x":{"datum":0.65},"y":{"datum":-1.7},"text":{"field":"k"}}}]}},
      {"transform":[{"filter":"datum.k==7"}],"facet":{"column":{"field":"c","title":null,"header":{"labels":false}}},"spacing":10.5,"bounds":"flush","spec":{"width":57,"height":155,"encoding":{"x":{"field":"t","type":"quantitative","scale":{"domain":[0,3]},"axis":{"title":null,"values":[0,1,2,3],"labelExpr":"['0','6','24','48'][datum.value]"}},"y":{"field":"v","type":"quantitative","scale":{"domain":[-2,2]},"axis":{"title":null,"values":[-2,-1.585,-1,0,1,1.585,2],"labelExpr":"datum.value==0?'Eq.':(datum.value>0?'+':'\u2212')+format(pow(2,abs(datum.value)),'.0f')"}}},"layer":[{"transform":[{"filter":"datum.g>0"}],"mark":{"type":"line","clip":true,"color":"#8ed800","strokeWidth":0.8,"opacity":0.35},"encoding":{"detail":{"field":"g"}}},{"transform":[{"filter":"datum.g==0"}],"mark":{"type":"line","color":"#8ed800","strokeWidth":3}},{"transform":[{"filter":"datum.g==0&&datum.t=='0'&&datum.c=='CCP'"}],"mark":{"type":"circle","size":560,"color":"black","opacity":1},"encoding":{"x":{"datum":0.65},"y":{"datum":-1.7}}},{"transform":[{"filter":"datum.g==0&&datum.t=='0'&&datum.c=='CCP'"}],"mark":{"type":"text","color":"white","fontSize":16,"fontWeight":"bold"},"encoding":{"x":{"datum":0.65},"y":{"datum":-1.7},"text":{"field":"k"}}}]}},
      {"transform":[{"filter":"datum.k==8"}],"facet":{"column":{"field":"c","title":null,"header":{"labels":false}}},"spacing":10.5,"bounds":"flush","spec":{"width":57,"height":155,"encoding":{"x":{"field":"t","type":"quantitative","scale":{"domain":[0,3]},"axis":{"title":null,"values":[0,1,2,3],"labelExpr":"['0','6','24','48'][datum.value]"}},"y":{"field":"v","type":"quantitative","scale":{"domain":[-2,2]},"axis":{"title":null,"values":[-2,-1.585,-1,0,1,1.585,2],"labelExpr":"datum.value==0?'Eq.':(datum.value>0?'+':'\u2212')+format(pow(2,abs(datum.value)),'.0f')"}}},"layer":[{"transform":[{"filter":"datum.g>0"}],"mark":{"type":"line","clip":true,"color":"#5cd400","strokeWidth":0.9,"opacity":0.4},"encoding":{"detail":{"field":"g"}}},{"transform":[{"filter":"datum.g==0"}],"mark":{"type":"line","color":"#4cc400","strokeWidth":3}},{"transform":[{"filter":"datum.g==0&&datum.t=='0'&&datum.c=='CCP'"}],"mark":{"type":"circle","size":560,"color":"black","opacity":1},"encoding":{"x":{"datum":0.65},"y":{"datum":-1.7}}},{"transform":[{"filter":"datum.g==0&&datum.t=='0'&&datum.c=='CCP'"}],"mark":{"type":"text","color":"white","fontSize":16,"fontWeight":"bold"},"encoding":{"x":{"datum":0.65},"y":{"datum":-1.7},"text":{"field":"k"}}}]}},
      {"transform":[{"filter":"datum.k==9"}],"facet":{"column":{"field":"c","title":null,"header":{"labels":false}}},"spacing":10.5,"bounds":"flush","spec":{"width":57,"height":155,"encoding":{"x":{"field":"t","type":"quantitative","scale":{"domain":[0,3]},"axis":{"title":null,"values":[0,1,2,3],"labelExpr":"['0','6','24','48'][datum.value]"}},"y":{"field":"v","type":"quantitative","scale":{"domain":[-2,2]},"axis":{"title":null,"values":[-2,-1.585,-1,0,1,1.585,2],"labelExpr":"datum.value==0?'Eq.':(datum.value>0?'+':'\u2212')+format(pow(2,abs(datum.value)),'.0f')"}}},"layer":[{"transform":[{"filter":"datum.g>0"}],"mark":{"type":"line","clip":true,"color":"#30d020","strokeWidth":0.9,"opacity":0.4},"encoding":{"detail":{"field":"g"}}},{"transform":[{"filter":"datum.g==0"}],"mark":{"type":"line","color":"#22c40a","strokeWidth":3}},{"transform":[{"filter":"datum.g==0&&datum.t=='0'&&datum.c=='CCP'"}],"mark":{"type":"circle","size":560,"color":"black","opacity":1},"encoding":{"x":{"datum":0.65},"y":{"datum":-1.7}}},{"transform":[{"filter":"datum.g==0&&datum.t=='0'&&datum.c=='CCP'"}],"mark":{"type":"text","color":"white","fontSize":16,"fontWeight":"bold"},"encoding":{"x":{"datum":0.65},"y":{"datum":-1.7},"text":{"field":"k"}}}]}},
      {"transform":[{"filter":"datum.k==10"}],"facet":{"column":{"field":"c","title":null,"header":{"labels":false}}},"spacing":10.5,"bounds":"flush","spec":{"width":57,"height":155,"encoding":{"x":{"field":"t","type":"quantitative","scale":{"domain":[0,3]},"axis":{"title":null,"values":[0,1,2,3],"labelExpr":"['0','6','24','48'][datum.value]"}},"y":{"field":"v","type":"quantitative","scale":{"domain":[-2,2]},"axis":{"title":null,"values":[-2,-1.585,-1,0,1,1.585,2],"labelExpr":"datum.value==0?'Eq.':(datum.value>0?'+':'\u2212')+format(pow(2,abs(datum.value)),'.0f')"}}},"layer":[{"transform":[{"filter":"datum.g>0"}],"mark":{"type":"line","clip":true,"color":"#20c840","strokeWidth":0.8,"opacity":0.35},"encoding":{"detail":{"field":"g"}}},{"transform":[{"filter":"datum.g==0"}],"mark":{"type":"line","color":"#0fb82a","strokeWidth":3}},{"transform":[{"filter":"datum.g==0&&datum.t=='0'&&datum.c=='CCP'"}],"mark":{"type":"circle","size":560,"color":"black","opacity":1},"encoding":{"x":{"datum":0.65},"y":{"datum":-1.7}}},{"transform":[{"filter":"datum.g==0&&datum.t=='0'&&datum.c=='CCP'"}],"mark":{"type":"text","color":"white","fontSize":16,"fontWeight":"bold"},"encoding":{"x":{"datum":0.65},"y":{"datum":-1.7},"text":{"field":"k"}}}]}}
    ]},
    {"spacing": 8.7, "hconcat": [
      {"transform":[{"filter":"datum.k==11"}],"facet":{"column":{"field":"c","title":null,"header":{"labels":false}}},"spacing":10.5,"bounds":"flush","spec":{"width":57,"height":155,"encoding":{"x":{"field":"t","type":"quantitative","scale":{"domain":[0,3]},"axis":{"title":null,"values":[0,1,2,3],"labelExpr":"['0','6','24','48'][datum.value]"}},"y":{"field":"v","type":"quantitative","scale":{"domain":[-2,2]},"axis":{"title":"Expression values","values":[-2,-1.585,-1,0,1,1.585,2],"labelExpr":"datum.value==0?'Eq.':(datum.value>0?'+':'\u2212')+format(pow(2,abs(datum.value)),'.0f')"}}},"layer":[{"transform":[{"filter":"datum.g>0"}],"mark":{"type":"line","clip":true,"color":"#20d85a","strokeWidth":0.8,"opacity":0.35},"encoding":{"detail":{"field":"g"}}},{"transform":[{"filter":"datum.g==0"}],"mark":{"type":"line","color":"#10cc48","strokeWidth":3}},{"transform":[{"filter":"datum.g==0&&datum.t=='0'&&datum.c=='CCP'"}],"mark":{"type":"circle","size":560,"color":"black","opacity":1},"encoding":{"x":{"datum":0.65},"y":{"datum":-1.7}}},{"transform":[{"filter":"datum.g==0&&datum.t=='0'&&datum.c=='CCP'"}],"mark":{"type":"text","color":"white","fontSize":16,"fontWeight":"bold"},"encoding":{"x":{"datum":0.65},"y":{"datum":-1.7},"text":{"field":"k"}}}]}},
      {"transform":[{"filter":"datum.k==12"}],"facet":{"column":{"field":"c","title":null,"header":{"labels":false}}},"spacing":10.5,"bounds":"flush","spec":{"width":57,"height":155,"encoding":{"x":{"field":"t","type":"quantitative","scale":{"domain":[0,3]},"axis":{"title":null,"values":[0,1,2,3],"labelExpr":"['0','6','24','48'][datum.value]"}},"y":{"field":"v","type":"quantitative","scale":{"domain":[-2,2]},"axis":{"title":null,"values":[-2,-1.585,-1,0,1,1.585,2],"labelExpr":"datum.value==0?'Eq.':(datum.value>0?'+':'\u2212')+format(pow(2,abs(datum.value)),'.0f')"}}},"layer":[{"transform":[{"filter":"datum.g>0"}],"mark":{"type":"line","clip":true,"color":"#20d890","strokeWidth":0.8,"opacity":0.35},"encoding":{"detail":{"field":"g"}}},{"transform":[{"filter":"datum.g==0"}],"mark":{"type":"line","color":"#10c47c","strokeWidth":3}},{"transform":[{"filter":"datum.g==0&&datum.t=='0'&&datum.c=='CCP'"}],"mark":{"type":"circle","size":560,"color":"black","opacity":1},"encoding":{"x":{"datum":0.65},"y":{"datum":-1.7}}},{"transform":[{"filter":"datum.g==0&&datum.t=='0'&&datum.c=='CCP'"}],"mark":{"type":"text","color":"white","fontSize":16,"fontWeight":"bold"},"encoding":{"x":{"datum":0.65},"y":{"datum":-1.7},"text":{"field":"k"}}}]}},
      {"transform":[{"filter":"datum.k==13"}],"facet":{"column":{"field":"c","title":null,"header":{"labels":false}}},"spacing":10.5,"bounds":"flush","spec":{"width":57,"height":155,"encoding":{"x":{"field":"t","type":"quantitative","scale":{"domain":[0,3]},"axis":{"title":null,"values":[0,1,2,3],"labelExpr":"['0','6','24','48'][datum.value]"}},"y":{"field":"v","type":"quantitative","scale":{"domain":[-2,2]},"axis":{"title":null,"values":[-2,-1.585,-1,0,1,1.585,2],"labelExpr":"datum.value==0?'Eq.':(datum.value>0?'+':'\u2212')+format(pow(2,abs(datum.value)),'.0f')"}}},"layer":[{"transform":[{"filter":"datum.g>0"}],"mark":{"type":"line","clip":true,"color":"#20dcc0","strokeWidth":0.9,"opacity":0.4},"encoding":{"detail":{"field":"g"}}},{"transform":[{"filter":"datum.g==0"}],"mark":{"type":"line","color":"#14ccaa","strokeWidth":3}},{"transform":[{"filter":"datum.g==0&&datum.t=='0'&&datum.c=='CCP'"}],"mark":{"type":"circle","size":560,"color":"black","opacity":1},"encoding":{"x":{"datum":0.65},"y":{"datum":-1.7}}},{"transform":[{"filter":"datum.g==0&&datum.t=='0'&&datum.c=='CCP'"}],"mark":{"type":"text","color":"white","fontSize":16,"fontWeight":"bold"},"encoding":{"x":{"datum":0.65},"y":{"datum":-1.7},"text":{"field":"k"}}}]}},
      {"transform":[{"filter":"datum.k==14"}],"facet":{"column":{"field":"c","title":null,"header":{"labels":false}}},"spacing":10.5,"bounds":"flush","spec":{"width":57,"height":155,"encoding":{"x":{"field":"t","type":"quantitative","scale":{"domain":[0,3]},"axis":{"title":null,"values":[0,1,2,3],"labelExpr":"['0','6','24','48'][datum.value]"}},"y":{"field":"v","type":"quantitative","scale":{"domain":[-2,2]},"axis":{"title":null,"values":[-2,-1.585,-1,0,1,1.585,2],"labelExpr":"datum.value==0?'Eq.':(datum.value>0?'+':'\u2212')+format(pow(2,abs(datum.value)),'.0f')"}}},"layer":[{"transform":[{"filter":"datum.g>0"}],"mark":{"type":"line","clip":true,"color":"#18d4ee","strokeWidth":1,"opacity":0.45},"encoding":{"detail":{"field":"g"}}},{"transform":[{"filter":"datum.g==0"}],"mark":{"type":"line","color":"#10c0d8","strokeWidth":3}},{"transform":[{"filter":"datum.g==0&&datum.t=='0'&&datum.c=='CCP'"}],"mark":{"type":"circle","size":560,"color":"black","opacity":1},"encoding":{"x":{"datum":0.65},"y":{"datum":-1.7}}},{"transform":[{"filter":"datum.g==0&&datum.t=='0'&&datum.c=='CCP'"}],"mark":{"type":"text","color":"white","fontSize":16,"fontWeight":"bold"},"encoding":{"x":{"datum":0.65},"y":{"datum":-1.7},"text":{"field":"k"}}}]}},
      {"transform":[{"filter":"datum.k==15"}],"facet":{"column":{"field":"c","title":null,"header":{"labels":false}}},"spacing":10.5,"bounds":"flush","spec":{"width":57,"height":155,"encoding":{"x":{"field":"t","type":"quantitative","scale":{"domain":[0,3]},"axis":{"title":null,"values":[0,1,2,3],"labelExpr":"['0','6','24','48'][datum.value]"}},"y":{"field":"v","type":"quantitative","scale":{"domain":[-2,2]},"axis":{"title":null,"values":[-2,-1.585,-1,0,1,1.585,2],"labelExpr":"datum.value==0?'Eq.':(datum.value>0?'+':'\u2212')+format(pow(2,abs(datum.value)),'.0f')"}}},"layer":[{"transform":[{"filter":"datum.g>0"}],"mark":{"type":"line","clip":true,"color":"#18a8ec","strokeWidth":0.9,"opacity":0.4},"encoding":{"detail":{"field":"g"}}},{"transform":[{"filter":"datum.g==0"}],"mark":{"type":"line","color":"#0a98dc","strokeWidth":3}},{"transform":[{"filter":"datum.g==0&&datum.t=='0'&&datum.c=='CCP'"}],"mark":{"type":"circle","size":560,"color":"black","opacity":1},"encoding":{"x":{"datum":0.65},"y":{"datum":-1.7}}},{"transform":[{"filter":"datum.g==0&&datum.t=='0'&&datum.c=='CCP'"}],"mark":{"type":"text","color":"white","fontSize":16,"fontWeight":"bold"},"encoding":{"x":{"datum":0.65},"y":{"datum":-1.7},"text":{"field":"k"}}}]}}
    ]},
    {"spacing": 8.7, "hconcat": [
      {"transform":[{"filter":"datum.k==16"}],"facet":{"column":{"field":"c","title":null,"header":{"labels":false}}},"spacing":10.5,"bounds":"flush","spec":{"width":57,"height":155,"encoding":{"x":{"field":"t","type":"quantitative","scale":{"domain":[0,3]},"axis":{"title":null,"values":[0,1,2,3],"labelExpr":"['0','6','24','48'][datum.value]"}},"y":{"field":"v","type":"quantitative","scale":{"domain":[-2,2]},"axis":{"title":"Expression values","values":[-2,-1.585,-1,0,1,1.585,2],"labelExpr":"datum.value==0?'Eq.':(datum.value>0?'+':'\u2212')+format(pow(2,abs(datum.value)),'.0f')"}}},"layer":[{"transform":[{"filter":"datum.g>0"}],"mark":{"type":"line","clip":true,"color":"#1878e8","strokeWidth":0.9,"opacity":0.4},"encoding":{"detail":{"field":"g"}}},{"transform":[{"filter":"datum.g==0"}],"mark":{"type":"line","color":"#0a68d8","strokeWidth":3}},{"transform":[{"filter":"datum.g==0&&datum.t=='0'&&datum.c=='CCP'"}],"mark":{"type":"circle","size":560,"color":"black","opacity":1},"encoding":{"x":{"datum":0.65},"y":{"datum":-1.7}}},{"transform":[{"filter":"datum.g==0&&datum.t=='0'&&datum.c=='CCP'"}],"mark":{"type":"text","color":"white","fontSize":16,"fontWeight":"bold"},"encoding":{"x":{"datum":0.65},"y":{"datum":-1.7},"text":{"field":"k"}}}]}},
      {"transform":[{"filter":"datum.k==17"}],"facet":{"column":{"field":"c","title":null,"header":{"labels":false}}},"spacing":10.5,"bounds":"flush","spec":{"width":57,"height":155,"encoding":{"x":{"field":"t","type":"quantitative","scale":{"domain":[0,3]},"axis":{"title":null,"values":[0,1,2,3],"labelExpr":"['0','6','24','48'][datum.value]"}},"y":{"field":"v","type":"quantitative","scale":{"domain":[-2,2]},"axis":{"title":null,"values":[-2,-1.585,-1,0,1,1.585,2],"labelExpr":"datum.value==0?'Eq.':(datum.value>0?'+':'\u2212')+format(pow(2,abs(datum.value)),'.0f')"}}},"layer":[{"transform":[{"filter":"datum.g>0"}],"mark":{"type":"line","clip":true,"color":"#2050f0","strokeWidth":0.8,"opacity":0.25},"encoding":{"detail":{"field":"g"}}},{"transform":[{"filter":"datum.g==0"}],"mark":{"type":"line","color":"#0a3ae6","strokeWidth":3}},{"transform":[{"filter":"datum.g==0&&datum.t=='0'&&datum.c=='CCP'"}],"mark":{"type":"circle","size":560,"color":"black","opacity":1},"encoding":{"x":{"datum":0.65},"y":{"datum":-1.7}}},{"transform":[{"filter":"datum.g==0&&datum.t=='0'&&datum.c=='CCP'"}],"mark":{"type":"text","color":"white","fontSize":16,"fontWeight":"bold"},"encoding":{"x":{"datum":0.65},"y":{"datum":-1.7},"text":{"field":"k"}}}]}},
      {"transform":[{"filter":"datum.k==18"}],"facet":{"column":{"field":"c","title":null,"header":{"labels":false}}},"spacing":10.5,"bounds":"flush","spec":{"width":57,"height":155,"encoding":{"x":{"field":"t","type":"quantitative","scale":{"domain":[0,3]},"axis":{"title":null,"values":[0,1,2,3],"labelExpr":"['0','6','24','48'][datum.value]"}},"y":{"field":"v","type":"quantitative","scale":{"domain":[-2,2]},"axis":{"title":null,"values":[-2,-1.585,-1,0,1,1.585,2],"labelExpr":"datum.value==0?'Eq.':(datum.value>0?'+':'\u2212')+format(pow(2,abs(datum.value)),'.0f')"}}},"layer":[{"transform":[{"filter":"datum.g>0"}],"mark":{"type":"line","clip":true,"color":"#3030f0","strokeWidth":0.9,"opacity":0.35},"encoding":{"detail":{"field":"g"}}},{"transform":[{"filter":"datum.g==0"}],"mark":{"type":"line","color":"#1a10e6","strokeWidth":3}},{"transform":[{"filter":"datum.g==0&&datum.t=='0'&&datum.c=='CCP'"}],"mark":{"type":"circle","size":560,"color":"black","opacity":1},"encoding":{"x":{"datum":0.65},"y":{"datum":-1.7}}},{"transform":[{"filter":"datum.g==0&&datum.t=='0'&&datum.c=='CCP'"}],"mark":{"type":"text","color":"white","fontSize":16,"fontWeight":"bold"},"encoding":{"x":{"datum":0.65},"y":{"datum":-1.7},"text":{"field":"k"}}}]}},
      {"transform":[{"filter":"datum.k==19"}],"facet":{"column":{"field":"c","title":null,"header":{"labels":false}}},"spacing":10.5,"bounds":"flush","spec":{"width":57,"height":155,"encoding":{"x":{"field":"t","type":"quantitative","scale":{"domain":[0,3]},"axis":{"title":null,"values":[0,1,2,3],"labelExpr":"['0','6','24','48'][datum.value]"}},"y":{"field":"v","type":"quantitative","scale":{"domain":[-2,2]},"axis":{"title":null,"values":[-2,-1.585,-1,0,1,1.585,2],"labelExpr":"datum.value==0?'Eq.':(datum.value>0?'+':'\u2212')+format(pow(2,abs(datum.value)),'.0f')"}}},"layer":[{"transform":[{"filter":"datum.g>0"}],"mark":{"type":"line","clip":true,"color":"#5030f0","strokeWidth":0.8,"opacity":0.25},"encoding":{"detail":{"field":"g"}}},{"transform":[{"filter":"datum.g==0"}],"mark":{"type":"line","color":"#4010e8","strokeWidth":3}},{"transform":[{"filter":"datum.g==0&&datum.t=='0'&&datum.c=='CCP'"}],"mark":{"type":"circle","size":560,"color":"black","opacity":1},"encoding":{"x":{"datum":0.65},"y":{"datum":-1.7}}},{"transform":[{"filter":"datum.g==0&&datum.t=='0'&&datum.c=='CCP'"}],"mark":{"type":"text","color":"white","fontSize":16,"fontWeight":"bold"},"encoding":{"x":{"datum":0.65},"y":{"datum":-1.7},"text":{"field":"k"}}}]}},
      {"transform":[{"filter":"datum.k==20"}],"facet":{"column":{"field":"c","title":null,"header":{"labels":false}}},"spacing":10.5,"bounds":"flush","spec":{"width":57,"height":155,"encoding":{"x":{"field":"t","type":"quantitative","scale":{"domain":[0,3]},"axis":{"title":null,"values":[0,1,2,3],"labelExpr":"['0','6','24','48'][datum.value]"}},"y":{"field":"v","type":"quantitative","scale":{"domain":[-2,2]},"axis":{"title":null,"values":[-2,-1.585,-1,0,1,1.585,2],"labelExpr":"datum.value==0?'Eq.':(datum.value>0?'+':'\u2212')+format(pow(2,abs(datum.value)),'.0f')"}}},"layer":[{"transform":[{"filter":"datum.g>0"}],"mark":{"type":"line","clip":true,"color":"#8040e8","strokeWidth":0.9,"opacity":0.4},"encoding":{"detail":{"field":"g"}}},{"transform":[{"filter":"datum.g==0"}],"mark":{"type":"line","color":"#7010dc","strokeWidth":3}},{"transform":[{"filter":"datum.g==0&&datum.t=='0'&&datum.c=='CCP'"}],"mark":{"type":"circle","size":560,"color":"black","opacity":1},"encoding":{"x":{"datum":0.65},"y":{"datum":-1.7}}},{"transform":[{"filter":"datum.g==0&&datum.t=='0'&&datum.c=='CCP'"}],"mark":{"type":"text","color":"white","fontSize":16,"fontWeight":"bold"},"encoding":{"x":{"datum":0.65},"y":{"datum":-1.7},"text":{"field":"k"}}}]}}
    ]},
    {"spacing": 8.7, "hconcat": [
      {"transform":[{"filter":"datum.k==21"}],"title":{"text":"(h)","orient":"bottom","anchor":"start","frame":"group","dx":171.5,"dy":-17,"offset":0,"fontSize":16.5,"fontWeight":"normal","color":"black"},"facet":{"column":{"field":"c","title":"\u00a0Time after pollination","header":{"labels":false,"titleOrient":"bottom","titleAnchor":"start"}}},"spacing":10.5,"bounds":"flush","spec":{"width":57,"height":155,"encoding":{"x":{"field":"t","type":"quantitative","scale":{"domain":[0,3]},"axis":{"title":null,"values":[0,1,2,3],"labelExpr":"['0','6','24','48'][datum.value]"}},"y":{"field":"v","type":"quantitative","scale":{"domain":[-2,2]},"axis":{"title":"Expression values","values":[-2,-1.585,-1,0,1,1.585,2],"labelExpr":"datum.value==0?'Eq.':(datum.value>0?'+':'\u2212')+format(pow(2,abs(datum.value)),'.0f')"}}},"layer":[{"transform":[{"filter":"datum.g>0"}],"mark":{"type":"line","clip":true,"color":"#a830e8","strokeWidth":0.8,"opacity":0.35},"encoding":{"detail":{"field":"g"}}},{"transform":[{"filter":"datum.g==0"}],"mark":{"type":"line","color":"#9a08dc","strokeWidth":3}},{"transform":[{"filter":"datum.g==0&&datum.t=='0'&&datum.c=='CCP'"}],"mark":{"type":"circle","size":560,"color":"black","opacity":1},"encoding":{"x":{"datum":0.65},"y":{"datum":-1.7}}},{"transform":[{"filter":"datum.g==0&&datum.t=='0'&&datum.c=='CCP'"}],"mark":{"type":"text","color":"white","fontSize":16,"fontWeight":"bold"},"encoding":{"x":{"datum":0.65},"y":{"datum":-1.7},"text":{"field":"k"}}}]}},
      {"transform":[{"filter":"datum.k==22"}],"title":{"text":"(h)","orient":"bottom","anchor":"start","frame":"group","dx":171.5,"dy":-17,"offset":0,"fontSize":16.5,"fontWeight":"normal","color":"black"},"facet":{"column":{"field":"c","title":"\u00a0Time after pollination","header":{"labels":false,"titleOrient":"bottom","titleAnchor":"start"}}},"spacing":10.5,"bounds":"flush","spec":{"width":57,"height":155,"encoding":{"x":{"field":"t","type":"quantitative","scale":{"domain":[0,3]},"axis":{"title":null,"values":[0,1,2,3],"labelExpr":"['0','6','24','48'][datum.value]"}},"y":{"field":"v","type":"quantitative","scale":{"domain":[-2,2]},"axis":{"title":null,"values":[-2,-1.585,-1,0,1,1.585,2],"labelExpr":"datum.value==0?'Eq.':(datum.value>0?'+':'\u2212')+format(pow(2,abs(datum.value)),'.0f')"}}},"layer":[{"transform":[{"filter":"datum.g>0"}],"mark":{"type":"line","clip":true,"color":"#d830e8","strokeWidth":0.9,"opacity":0.4},"encoding":{"detail":{"field":"g"}}},{"transform":[{"filter":"datum.g==0"}],"mark":{"type":"line","color":"#d010e0","strokeWidth":3}},{"transform":[{"filter":"datum.g==0&&datum.t=='0'&&datum.c=='CCP'"}],"mark":{"type":"circle","size":560,"color":"black","opacity":1},"encoding":{"x":{"datum":0.65},"y":{"datum":-1.7}}},{"transform":[{"filter":"datum.g==0&&datum.t=='0'&&datum.c=='CCP'"}],"mark":{"type":"text","color":"white","fontSize":16,"fontWeight":"bold"},"encoding":{"x":{"datum":0.65},"y":{"datum":-1.7},"text":{"field":"k"}}}]}},
      {"transform":[{"filter":"datum.k==23"}],"title":{"text":"(h)","orient":"bottom","anchor":"start","frame":"group","dx":171.5,"dy":-17,"offset":0,"fontSize":16.5,"fontWeight":"normal","color":"black"},"facet":{"column":{"field":"c","title":"\u00a0Time after pollination","header":{"labels":false,"titleOrient":"bottom","titleAnchor":"start"}}},"spacing":10.5,"bounds":"flush","spec":{"width":57,"height":155,"encoding":{"x":{"field":"t","type":"quantitative","scale":{"domain":[0,3]},"axis":{"title":null,"values":[0,1,2,3],"labelExpr":"['0','6','24','48'][datum.value]"}},"y":{"field":"v","type":"quantitative","scale":{"domain":[-2,2]},"axis":{"title":null,"values":[-2,-1.585,-1,0,1,1.585,2],"labelExpr":"datum.value==0?'Eq.':(datum.value>0?'+':'\u2212')+format(pow(2,abs(datum.value)),'.0f')"}}},"layer":[{"transform":[{"filter":"datum.g>0"}],"mark":{"type":"line","clip":true,"color":"#e830c0","strokeWidth":0.8,"opacity":0.35},"encoding":{"detail":{"field":"g"}}},{"transform":[{"filter":"datum.g==0"}],"mark":{"type":"line","color":"#e010b0","strokeWidth":3}},{"transform":[{"filter":"datum.g==0&&datum.t=='0'&&datum.c=='CCP'"}],"mark":{"type":"circle","size":560,"color":"black","opacity":1},"encoding":{"x":{"datum":0.65},"y":{"datum":-1.7}}},{"transform":[{"filter":"datum.g==0&&datum.t=='0'&&datum.c=='CCP'"}],"mark":{"type":"text","color":"white","fontSize":16,"fontWeight":"bold"},"encoding":{"x":{"datum":0.65},"y":{"datum":-1.7},"text":{"field":"k"}}}]}},
      {"transform":[{"filter":"datum.k==24"}],"title":{"text":"(h)","orient":"bottom","anchor":"start","frame":"group","dx":171.5,"dy":-17,"offset":0,"fontSize":16.5,"fontWeight":"normal","color":"black"},"facet":{"column":{"field":"c","title":"\u00a0Time after pollination","header":{"labels":false,"titleOrient":"bottom","titleAnchor":"start"}}},"spacing":10.5,"bounds":"flush","spec":{"width":57,"height":155,"encoding":{"x":{"field":"t","type":"quantitative","scale":{"domain":[0,3]},"axis":{"title":null,"values":[0,1,2,3],"labelExpr":"['0','6','24','48'][datum.value]"}},"y":{"field":"v","type":"quantitative","scale":{"domain":[-2,2]},"axis":{"title":null,"values":[-2,-1.585,-1,0,1,1.585,2],"labelExpr":"datum.value==0?'Eq.':(datum.value>0?'+':'\u2212')+format(pow(2,abs(datum.value)),'.0f')"}}},"layer":[{"transform":[{"filter":"datum.g>0"}],"mark":{"type":"line","clip":true,"color":"#ec3088","strokeWidth":0.8,"opacity":0.25},"encoding":{"detail":{"field":"g"}}},{"transform":[{"filter":"datum.g==0"}],"mark":{"type":"line","color":"#e6107a","strokeWidth":3}},{"transform":[{"filter":"datum.g==0&&datum.t=='0'&&datum.c=='CCP'"}],"mark":{"type":"circle","size":560,"color":"black","opacity":1},"encoding":{"x":{"datum":0.65},"y":{"datum":-1.7}}},{"transform":[{"filter":"datum.g==0&&datum.t=='0'&&datum.c=='CCP'"}],"mark":{"type":"text","color":"white","fontSize":16,"fontWeight":"bold"},"encoding":{"x":{"datum":0.65},"y":{"datum":-1.7},"text":{"field":"k"}}}]}},
      {"transform":[{"filter":"datum.k==25"}],"title":{"text":"(h)","orient":"bottom","anchor":"start","frame":"group","dx":171.5,"dy":-17,"offset":0,"fontSize":16.5,"fontWeight":"normal","color":"black"},"facet":{"column":{"field":"c","title":"\u00a0Time after pollination","header":{"labels":false,"titleOrient":"bottom","titleAnchor":"start"}}},"spacing":10.5,"bounds":"flush","spec":{"width":57,"height":155,"encoding":{"x":{"field":"t","type":"quantitative","scale":{"domain":[0,3]},"axis":{"title":null,"values":[0,1,2,3],"labelExpr":"['0','6','24','48'][datum.value]"}},"y":{"field":"v","type":"quantitative","scale":{"domain":[-2,2]},"axis":{"title":null,"values":[-2,-1.585,-1,0,1,1.585,2],"labelExpr":"datum.value==0?'Eq.':(datum.value>0?'+':'\u2212')+format(pow(2,abs(datum.value)),'.0f')"}}},"layer":[{"transform":[{"filter":"datum.g>0"}],"mark":{"type":"line","clip":true,"color":"#e83060","strokeWidth":0.8,"opacity":0.35},"encoding":{"detail":{"field":"g"}}},{"transform":[{"filter":"datum.g==0"}],"mark":{"type":"line","color":"#e01050","strokeWidth":3}},{"transform":[{"filter":"datum.g==0&&datum.t=='0'&&datum.c=='CCP'"}],"mark":{"type":"circle","size":560,"color":"black","opacity":1},"encoding":{"x":{"datum":0.65},"y":{"datum":-1.7}}},{"transform":[{"filter":"datum.g==0&&datum.t=='0'&&datum.c=='CCP'"}],"mark":{"type":"text","color":"white","fontSize":16,"fontWeight":"bold"},"encoding":{"x":{"datum":0.65},"y":{"datum":-1.7},"text":{"field":"k"}}}]}}
    ]}
  ],
  "config": {
    "font": "Liberation Sans",
    "view": {"stroke": null},
    "axis": {"grid": false, "domainColor": "black", "domainWidth": 1.5, "tickColor": "black", "tickWidth": 1.5, "tickSize": 5, "labelFontWeight": "bold", "labelFontSize": 11, "labelColor": "black", "titleFontSize": 16, "titleFontWeight": "bold", "titleColor": "black"},
    "axisX": {"offset": 7, "labelPadding": 1, "labelFontSize": 10.5, "labelAngle": 0, "labelFlush": false, "labelOverlap": false},
    "axisY": {"offset": 8, "labelPadding": 3, "labelOverlap": false, "titlePadding": 9},
    "header": {"labelFontSize": 17, "labelFontWeight": "bold", "labelColor": "black", "labelPadding": 1, "titleFontSize": 16.8, "titleFontWeight": "bold", "titleColor": "black", "titlePadding": 1}
  }
}
